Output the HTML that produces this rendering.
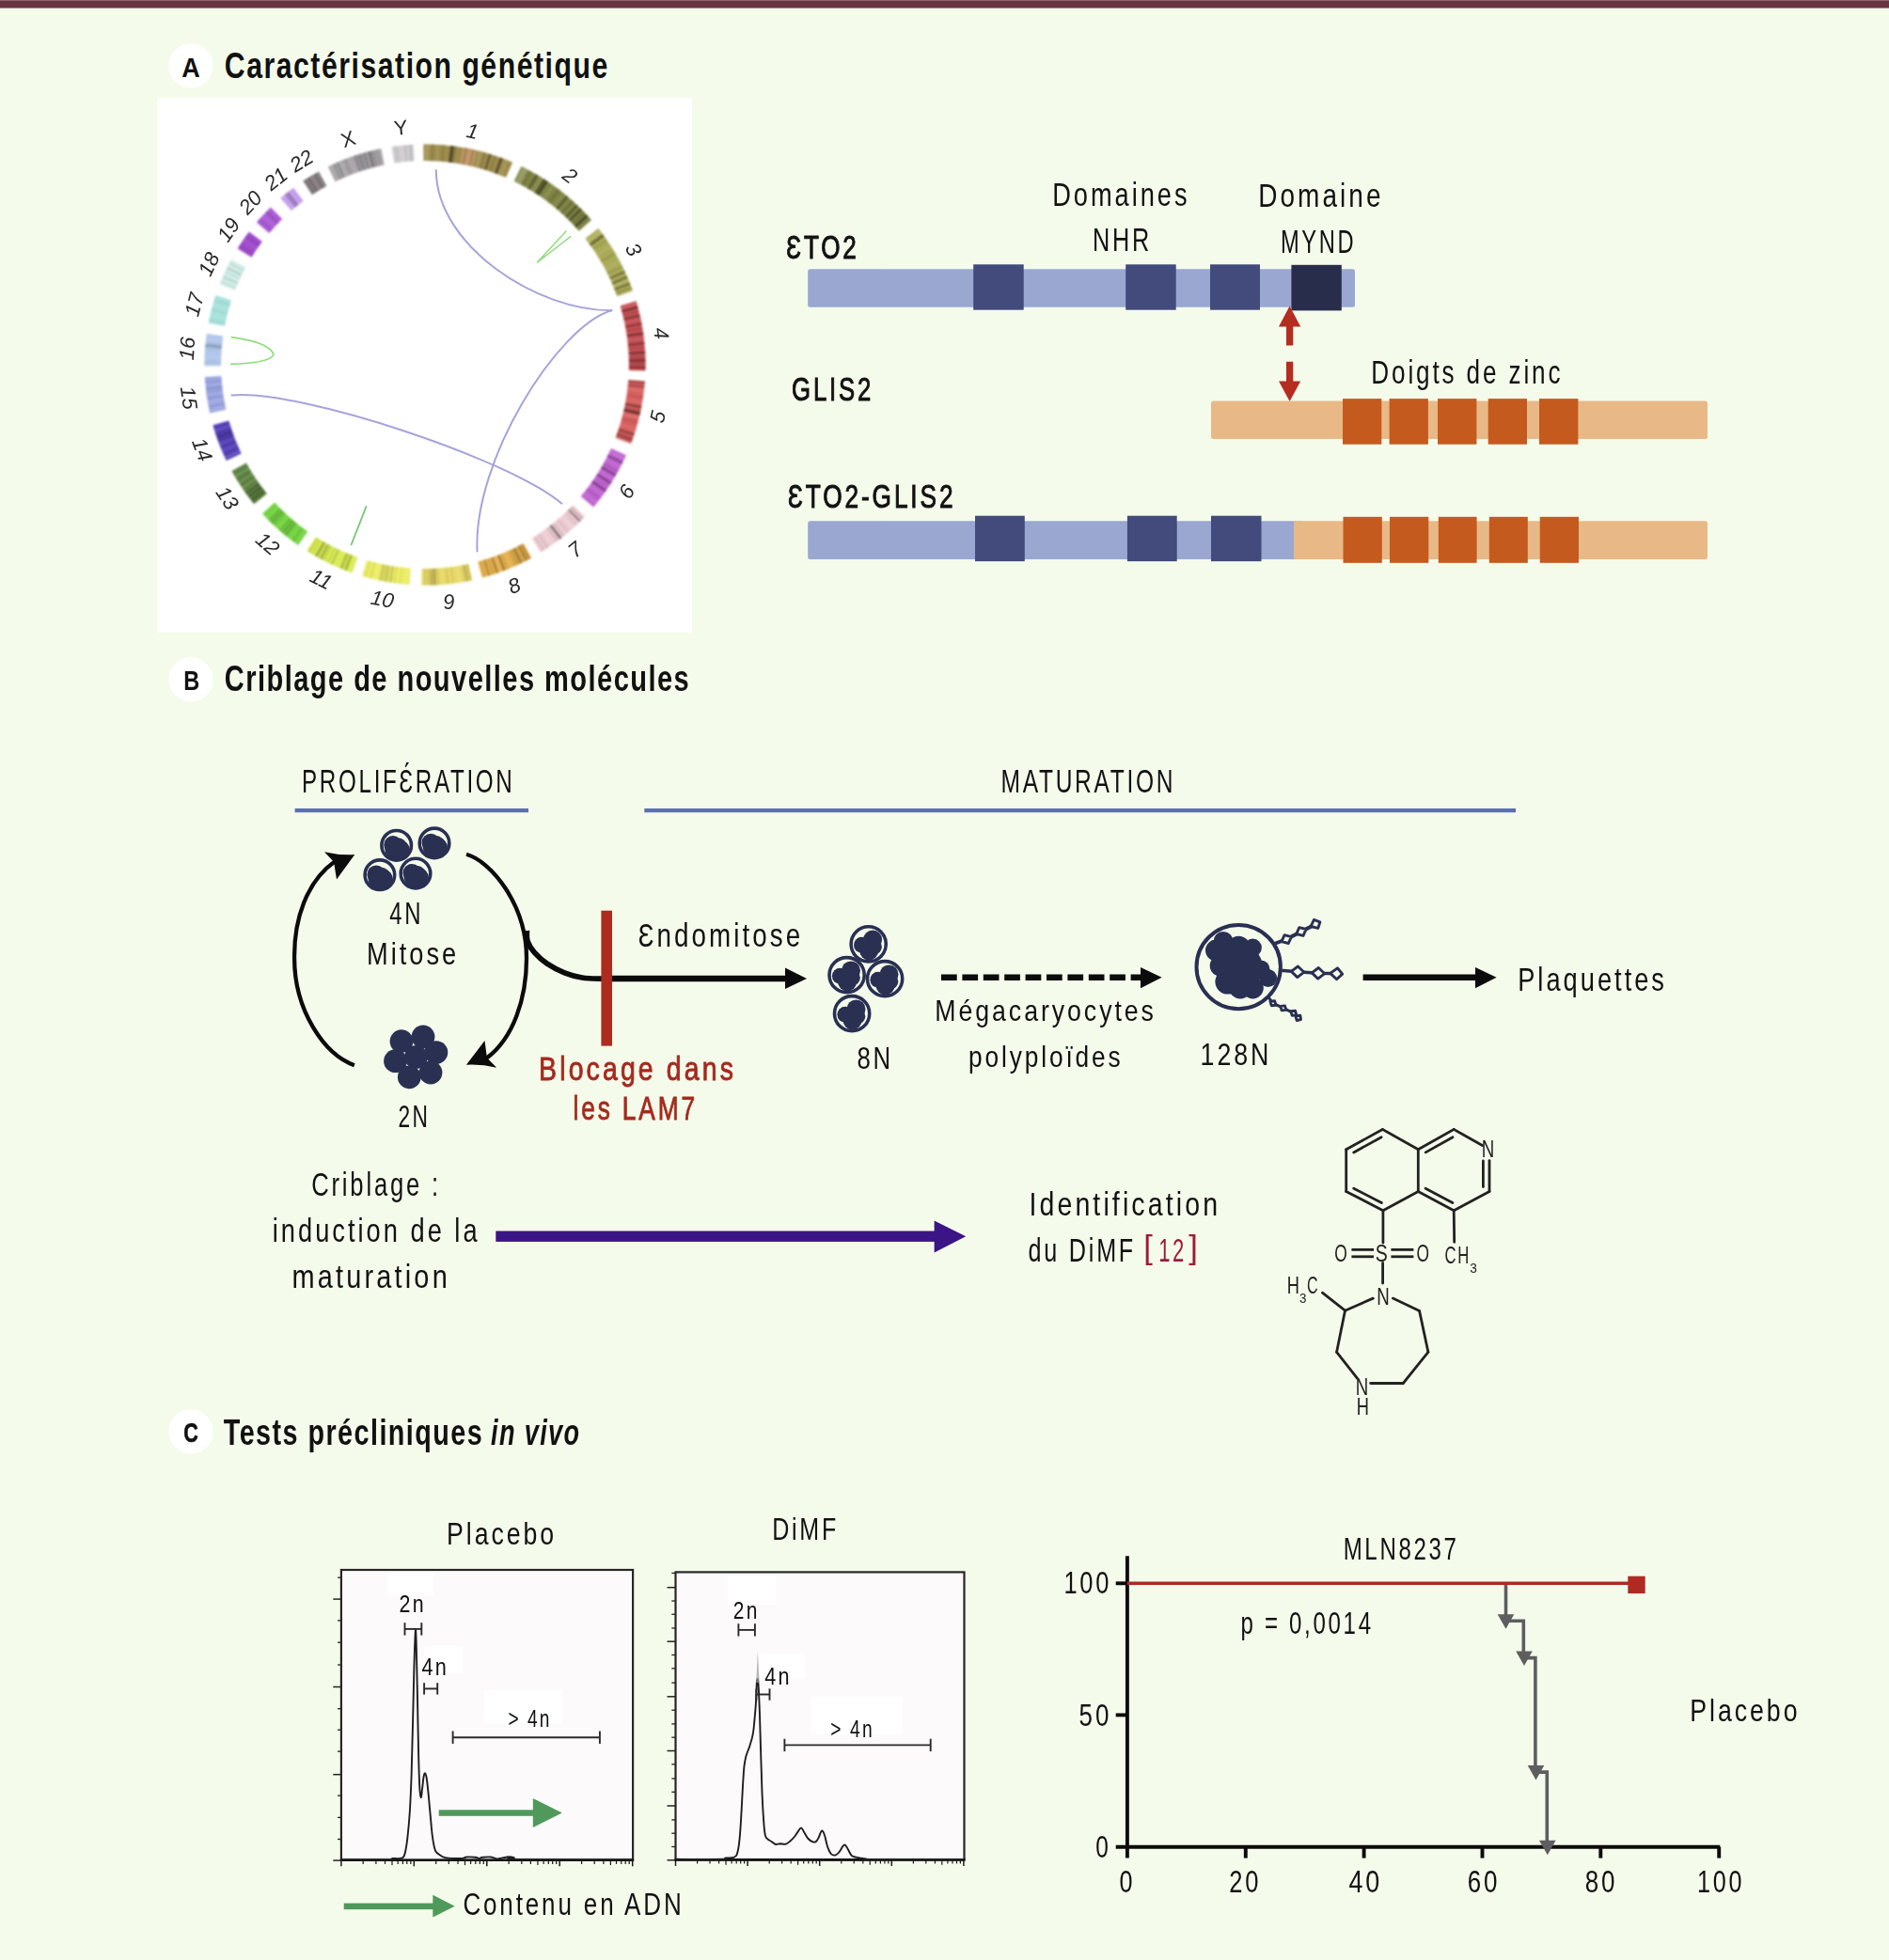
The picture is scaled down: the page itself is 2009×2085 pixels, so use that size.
<!DOCTYPE html>
<html><head><meta charset="utf-8"><title>Figure</title>
<style>html,body{margin:0;padding:0;background:#f5fbeb}svg{display:block}text{font-family:"Liberation Sans",sans-serif}</style></head>
<body>
<svg width="2009" height="2085" viewBox="0 0 2009 2085">
<rect width="2009" height="2085" fill="#f5fbeb"/>
<rect x="0.0" y="0.0" width="2009.0" height="8.6" fill="#6b3641" />
<rect x="0.0" y="0.0" width="2009.0" height="1.0" fill="#8d6670" />
<circle cx="203.0" cy="70.0" r="23.6" fill="#ffffff" />
<text x="203.0" y="82.0" font-size="30.0" textLength="19.5" lengthAdjust="spacingAndGlyphs" font-weight="bold" fill="#111" text-anchor="middle" >A</text>
<text x="238.8" y="83.2" font-size="38.0" textLength="408.9" lengthAdjust="spacingAndGlyphs" font-weight="bold" fill="#111" letter-spacing="1.90" >Caractérisation génétique</text>
<rect x="167.3" y="104.0" width="568.7" height="568.7" fill="#ffffff" />
<defs><filter id="bl" x="-5%" y="-5%" width="110%" height="110%"><feGaussianBlur stdDeviation="0.9"/></filter><filter id="bl2"><feGaussianBlur stdDeviation="0.6"/></filter></defs>
<g filter="url(#bl)">
<path d="M450.36,153.41 A234.60,234.60 0 0 1 545.17,172.69 L538.18,188.85 A217.00,217.00 0 0 0 450.49,171.01 Z" fill="#9e8c4e" />
<path d="M452.80,153.40 A234.60,234.60 0 0 1 455.72,153.43 L455.44,171.03 A217.00,217.00 0 0 0 452.74,171.00 Z" fill="#ad9d69" />
<path d="M459.13,153.51 A234.60,234.60 0 0 1 461.08,153.58 L460.40,171.16 A217.00,217.00 0 0 0 458.60,171.10 Z" fill="#8e7e46" />
<path d="M464.97,153.76 A234.60,234.60 0 0 1 466.92,153.87 L465.80,171.44 A217.00,217.00 0 0 0 464.00,171.33 Z" fill="#aa9a63" />
<path d="M470.81,154.16 A234.60,234.60 0 0 1 472.75,154.32 L471.19,171.85 A217.00,217.00 0 0 0 469.40,171.70 Z" fill="#8b7b45" />
<path d="M479.05,154.96 A234.60,234.60 0 0 1 482.92,155.45 L480.60,172.89 A217.00,217.00 0 0 0 477.02,172.45 Z" fill="#4f4627" />
<path d="M483.64,155.54 A234.60,234.60 0 0 1 485.09,155.75 L482.61,173.17 A217.00,217.00 0 0 0 481.27,172.98 Z" fill="#7e703e" />
<path d="M492.55,156.93 A234.60,234.60 0 0 1 506.86,159.90 L502.74,177.02 A217.00,217.00 0 0 0 489.51,174.27 Z" fill="#c4966c" />
<path d="M495.19,157.41 A234.60,234.60 0 0 1 496.62,157.68 L493.27,174.96 A217.00,217.00 0 0 0 491.95,174.71 Z" fill="#867742" />
<path d="M502.82,158.97 A234.60,234.60 0 0 1 504.25,159.29 L500.33,176.45 A217.00,217.00 0 0 0 499.01,176.15 Z" fill="#8b7b45" />
<path d="M509.70,160.61 A234.60,234.60 0 0 1 512.53,161.34 L507.98,178.35 A217.00,217.00 0 0 0 505.37,177.66 Z" fill="#aa9a63" />
<path d="M514.88,161.98 A234.60,234.60 0 0 1 516.75,162.51 L511.89,179.43 A217.00,217.00 0 0 0 510.16,178.94 Z" fill="#867742" />
<path d="M520.02,163.48 A234.60,234.60 0 0 1 522.81,164.34 L517.50,181.12 A217.00,217.00 0 0 0 514.92,180.32 Z" fill="#675b33" />
<path d="M526.29,165.47 A234.60,234.60 0 0 1 527.68,165.94 L522.00,182.60 A217.00,217.00 0 0 0 520.72,182.17 Z" fill="#7e703e" />
<path d="M532.04,167.48 A234.60,234.60 0 0 1 534.78,168.49 L528.57,184.96 A217.00,217.00 0 0 0 526.04,184.02 Z" fill="#4f4627" />
<path d="M537.51,169.54 A234.60,234.60 0 0 1 540.23,170.62 L533.61,186.93 A217.00,217.00 0 0 0 531.10,185.93 Z" fill="#a89860" />
<path d="M554.47,176.96 A234.60,234.60 0 0 1 629.05,234.09 L615.77,245.64 A217.00,217.00 0 0 0 546.79,192.80 Z" fill="#808444" />
<path d="M556.17,177.80 A234.60,234.60 0 0 1 561.23,180.38 L553.03,195.95 A217.00,217.00 0 0 0 548.36,193.57 Z" fill="#999d69" />
<path d="M563.73,181.71 A234.60,234.60 0 0 1 565.39,182.62 L556.88,198.03 A217.00,217.00 0 0 0 555.35,197.19 Z" fill="#6d703a" />
<path d="M569.91,185.19 A234.60,234.60 0 0 1 572.36,186.63 L563.33,201.73 A217.00,217.00 0 0 0 561.07,200.40 Z" fill="#5a5c30" />
<path d="M575.19,188.35 A234.60,234.60 0 0 1 576.79,189.35 L567.43,204.25 A217.00,217.00 0 0 0 565.95,203.32 Z" fill="#939660" />
<path d="M577.99,190.10 A234.60,234.60 0 0 1 581.96,192.68 L572.21,207.34 A217.00,217.00 0 0 0 568.54,204.95 Z" fill="#53562c" />
<path d="M581.76,192.55 A234.60,234.60 0 0 1 582.94,193.34 L573.12,207.94 A217.00,217.00 0 0 0 572.03,207.22 Z" fill="#33351b" />
<path d="M587.42,196.43 A234.60,234.60 0 0 1 589.72,198.08 L579.39,212.33 A217.00,217.00 0 0 0 577.26,210.80 Z" fill="#8f935a" />
<path d="M593.15,200.61 A234.60,234.60 0 0 1 596.15,202.91 L585.34,216.80 A217.00,217.00 0 0 0 582.56,214.67 Z" fill="#73773d" />
<path d="M599.12,205.26 A234.60,234.60 0 0 1 600.58,206.45 L589.44,220.07 A217.00,217.00 0 0 0 588.08,218.97 Z" fill="#8d9057" />
<path d="M602.77,208.26 A234.60,234.60 0 0 1 604.21,209.48 L592.79,222.88 A217.00,217.00 0 0 0 591.46,221.75 Z" fill="#464925" />
<path d="M608.13,212.90 A234.60,234.60 0 0 1 610.24,214.80 L598.37,227.80 A217.00,217.00 0 0 0 596.42,226.04 Z" fill="#6d703a" />
<path d="M613.01,217.38 A234.60,234.60 0 0 1 615.07,219.34 L602.83,231.99 A217.00,217.00 0 0 0 600.93,230.18 Z" fill="#53562c" />
<path d="M617.09,221.32 A234.60,234.60 0 0 1 619.10,223.33 L606.56,235.69 A217.00,217.00 0 0 0 604.71,233.83 Z" fill="#4d4f29" />
<path d="M620.75,225.02 A234.60,234.60 0 0 1 622.06,226.39 L609.30,238.51 A217.00,217.00 0 0 0 608.09,237.25 Z" fill="#666a36" />
<path d="M623.35,227.77 A234.60,234.60 0 0 1 625.92,230.55 L612.87,242.36 A217.00,217.00 0 0 0 610.50,239.79 Z" fill="#4d4f29" />
<path d="M636.36,242.92 A234.60,234.60 0 0 1 673.01,309.30 L656.43,315.21 A217.00,217.00 0 0 0 622.53,253.81 Z" fill="#aaaa58" />
<path d="M637.77,244.72 A234.60,234.60 0 0 1 639.61,247.15 L625.54,257.71 A217.00,217.00 0 0 0 623.83,255.47 Z" fill="#b7b771" />
<path d="M640.97,248.98 A234.60,234.60 0 0 1 642.76,251.45 L628.45,261.69 A217.00,217.00 0 0 0 626.80,259.41 Z" fill="#666635" />
<path d="M644.95,254.56 A234.60,234.60 0 0 1 645.82,255.82 L631.28,265.73 A217.00,217.00 0 0 0 630.48,264.57 Z" fill="#96964d" />
<path d="M648.98,260.57 A234.60,234.60 0 0 1 650.21,262.50 L635.34,271.91 A217.00,217.00 0 0 0 634.20,270.13 Z" fill="#b2b269" />
<path d="M653.79,268.34 A234.60,234.60 0 0 1 654.95,270.31 L639.72,279.14 A217.00,217.00 0 0 0 638.65,277.32 Z" fill="#99994f" />
<path d="M658.66,276.96 A234.60,234.60 0 0 1 659.73,278.98 L644.15,287.16 A217.00,217.00 0 0 0 643.16,285.29 Z" fill="#b4b46c" />
<path d="M661.64,282.71 A234.60,234.60 0 0 1 662.32,284.07 L646.54,291.87 A217.00,217.00 0 0 0 645.92,290.61 Z" fill="#90904b" />
<path d="M664.14,287.84 A234.60,234.60 0 0 1 665.11,289.91 L649.12,297.27 A217.00,217.00 0 0 0 648.23,295.36 Z" fill="#6e6e39" />
<path d="M666.67,293.38 A234.60,234.60 0 0 1 667.59,295.48 L651.41,302.42 A217.00,217.00 0 0 0 650.57,300.48 Z" fill="#666635" />
<path d="M668.33,297.23 A234.60,234.60 0 0 1 668.91,298.64 L652.64,305.34 A217.00,217.00 0 0 0 652.10,304.04 Z" fill="#b7b771" />
<path d="M669.63,300.40 A234.60,234.60 0 0 1 670.47,302.53 L654.08,308.94 A217.00,217.00 0 0 0 653.31,306.97 Z" fill="#666635" />
<path d="M671.43,305.01 A234.60,234.60 0 0 1 671.97,306.44 L655.46,312.56 A217.00,217.00 0 0 0 654.97,311.24 Z" fill="#888846" />
<path d="M676.59,320.19 A234.60,234.60 0 0 1 686.51,394.55 L668.92,394.06 A217.00,217.00 0 0 0 659.74,325.28 Z" fill="#c45054" />
<path d="M677.12,322.00 A234.60,234.60 0 0 1 677.75,324.17 L660.81,328.96 A217.00,217.00 0 0 0 660.24,326.95 Z" fill="#cb6569" />
<path d="M678.16,325.62 A234.60,234.60 0 0 1 678.75,327.80 L661.73,332.32 A217.00,217.00 0 0 0 661.19,330.30 Z" fill="#6c2c2e" />
<path d="M679.41,330.36 A234.60,234.60 0 0 1 679.77,331.82 L662.69,336.03 A217.00,217.00 0 0 0 662.35,334.68 Z" fill="#a74447" />
<path d="M680.39,334.38 A234.60,234.60 0 0 1 680.90,336.58 L663.72,340.44 A217.00,217.00 0 0 0 663.26,338.40 Z" fill="#763032" />
<path d="M681.46,339.16 A234.60,234.60 0 0 1 681.77,340.63 L664.53,344.19 A217.00,217.00 0 0 0 664.25,342.82 Z" fill="#ca6265" />
<path d="M682.29,343.22 A234.60,234.60 0 0 1 682.71,345.44 L665.40,348.63 A217.00,217.00 0 0 0 665.01,346.58 Z" fill="#89383b" />
<path d="M683.30,348.78 A234.60,234.60 0 0 1 683.55,350.27 L666.17,353.10 A217.00,217.00 0 0 0 665.95,351.72 Z" fill="#a74447" />
<path d="M684.07,353.62 A234.60,234.60 0 0 1 684.39,355.85 L666.95,358.26 A217.00,217.00 0 0 0 666.66,356.20 Z" fill="#6c2c2e" />
<path d="M684.83,359.21 A234.60,234.60 0 0 1 685.01,360.71 L667.53,362.76 A217.00,217.00 0 0 0 667.36,361.37 Z" fill="#cb6569" />
<path d="M685.38,364.08 A234.60,234.60 0 0 1 685.60,366.33 L668.07,367.96 A217.00,217.00 0 0 0 667.87,365.87 Z" fill="#7f3437" />
<path d="M685.83,368.96 A234.60,234.60 0 0 1 685.94,370.46 L668.39,371.77 A217.00,217.00 0 0 0 668.28,370.39 Z" fill="#a74447" />
<path d="M686.17,373.84 A234.60,234.60 0 0 1 686.30,376.10 L668.72,376.99 A217.00,217.00 0 0 0 668.60,374.90 Z" fill="#6c2c2e" />
<path d="M686.42,378.73 A234.60,234.60 0 0 1 686.47,380.24 L668.88,380.82 A217.00,217.00 0 0 0 668.83,379.43 Z" fill="#9d4043" />
<path d="M686.53,382.12 A234.60,234.60 0 0 1 686.57,384.38 L668.97,384.65 A217.00,217.00 0 0 0 668.93,382.56 Z" fill="#6c2c2e" />
<path d="M686.59,386.26 A234.60,234.60 0 0 1 686.60,387.77 L669.00,387.79 A217.00,217.00 0 0 0 668.99,386.39 Z" fill="#933c3f" />
<path d="M686.59,389.65 A234.60,234.60 0 0 1 686.57,391.91 L668.97,391.62 A217.00,217.00 0 0 0 668.99,389.53 Z" fill="#763032" />
<path d="M685.97,405.18 A234.60,234.60 0 0 1 671.02,472.07 L654.59,465.77 A217.00,217.00 0 0 0 668.42,403.89 Z" fill="#d6605e" />
<path d="M685.89,406.21 A234.60,234.60 0 0 1 685.72,408.27 L668.19,406.75 A217.00,217.00 0 0 0 668.35,404.84 Z" fill="#964342" />
<path d="M685.50,410.66 A234.60,234.60 0 0 1 685.37,412.03 L667.86,410.23 A217.00,217.00 0 0 0 667.98,408.96 Z" fill="#803a38" />
<path d="M685.03,415.11 A234.60,234.60 0 0 1 684.78,417.16 L667.32,414.97 A217.00,217.00 0 0 0 667.55,413.08 Z" fill="#db7371" />
<path d="M684.13,421.93 A234.60,234.60 0 0 1 683.83,423.97 L666.43,421.27 A217.00,217.00 0 0 0 666.72,419.39 Z" fill="#c15655" />
<path d="M683.22,427.71 A234.60,234.60 0 0 1 682.98,429.06 L665.65,425.98 A217.00,217.00 0 0 0 665.87,424.73 Z" fill="#da706e" />
<path d="M682.42,432.10 A234.60,234.60 0 0 1 682.02,434.13 L664.76,430.67 A217.00,217.00 0 0 0 665.13,428.80 Z" fill="#763534" />
<path d="M681.68,435.81 A234.60,234.60 0 0 1 681.39,437.16 L664.18,433.47 A217.00,217.00 0 0 0 664.45,432.23 Z" fill="#ab4d4b" />
<path d="M681.17,438.17 A234.60,234.60 0 0 1 680.41,441.52 L663.28,437.51 A217.00,217.00 0 0 0 663.98,434.41 Z" fill="#6b302f" />
<path d="M679.85,443.86 A234.60,234.60 0 0 1 679.52,445.20 L662.45,440.91 A217.00,217.00 0 0 0 662.76,439.67 Z" fill="#de807e" />
<path d="M678.57,448.86 A234.60,234.60 0 0 1 678.02,450.85 L661.07,446.14 A217.00,217.00 0 0 0 661.57,444.30 Z" fill="#bc5453" />
<path d="M676.69,455.48 A234.60,234.60 0 0 1 676.08,457.45 L659.27,452.24 A217.00,217.00 0 0 0 659.83,450.42 Z" fill="#da706e" />
<path d="M674.83,461.38 A234.60,234.60 0 0 1 674.17,463.34 L657.51,457.69 A217.00,217.00 0 0 0 658.11,455.88 Z" fill="#763534" />
<path d="M673.62,464.97 A234.60,234.60 0 0 1 673.16,466.26 L656.57,460.39 A217.00,217.00 0 0 0 656.99,459.19 Z" fill="#ab4d4b" />
<path d="M672.81,467.24 A234.60,234.60 0 0 1 672.11,469.18 L655.60,463.09 A217.00,217.00 0 0 0 656.25,461.29 Z" fill="#803a38" />
<path d="M665.98,484.17 A234.60,234.60 0 0 1 631.19,539.42 L617.74,528.06 A217.00,217.00 0 0 0 649.93,476.95 Z" fill="#c064d0" />
<path d="M664.76,486.85 A234.60,234.60 0 0 1 663.92,488.63 L648.02,481.08 A217.00,217.00 0 0 0 648.80,479.43 Z" fill="#c97bd7" />
<path d="M662.64,491.28 A234.60,234.60 0 0 1 661.47,493.63 L645.76,485.71 A217.00,217.00 0 0 0 646.84,483.53 Z" fill="#864692" />
<path d="M659.98,496.54 A234.60,234.60 0 0 1 659.37,497.70 L643.81,489.47 A217.00,217.00 0 0 0 644.38,488.40 Z" fill="#c877d6" />
<path d="M657.66,500.88 A234.60,234.60 0 0 1 656.71,502.59 L641.35,494.00 A217.00,217.00 0 0 0 642.23,492.41 Z" fill="#a355b1" />
<path d="M655.58,504.59 A234.60,234.60 0 0 1 654.26,506.86 L639.09,497.94 A217.00,217.00 0 0 0 640.31,495.84 Z" fill="#7d4187" />
<path d="M652.58,509.67 A234.60,234.60 0 0 1 651.90,510.79 L636.90,501.58 A217.00,217.00 0 0 0 637.54,500.54 Z" fill="#c674d5" />
<path d="M650.52,513.01 A234.60,234.60 0 0 1 649.11,515.22 L634.32,505.68 A217.00,217.00 0 0 0 635.62,503.63 Z" fill="#7d4187" />
<path d="M647.31,517.96 A234.60,234.60 0 0 1 646.58,519.05 L631.99,509.22 A217.00,217.00 0 0 0 632.66,508.21 Z" fill="#ad5abb" />
<path d="M645.11,521.22 A234.60,234.60 0 0 1 643.61,523.36 L629.23,513.21 A217.00,217.00 0 0 0 630.62,511.22 Z" fill="#733c7d" />
<path d="M641.70,526.03 A234.60,234.60 0 0 1 640.93,527.08 L626.75,516.65 A217.00,217.00 0 0 0 627.47,515.67 Z" fill="#c674d5" />
<path d="M638.77,529.97 A234.60,234.60 0 0 1 637.57,531.53 L623.65,520.76 A217.00,217.00 0 0 0 624.76,519.32 Z" fill="#a958b7" />
<path d="M635.34,534.36 A234.60,234.60 0 0 1 633.70,536.40 L620.07,525.27 A217.00,217.00 0 0 0 621.59,523.38 Z" fill="#c570d4" />
<path d="M622.17,549.49 A234.60,234.60 0 0 1 574.93,587.82 L565.70,572.82 A217.00,217.00 0 0 0 609.41,537.37 Z" fill="#ecccd2" />
<path d="M620.06,551.69 A234.60,234.60 0 0 1 619.21,552.56 L606.66,540.21 A217.00,217.00 0 0 0 607.45,539.41 Z" fill="#b1999e" />
<path d="M617.92,553.86 A234.60,234.60 0 0 1 616.18,555.58 L603.86,543.00 A217.00,217.00 0 0 0 605.47,541.42 Z" fill="#8e7a7e" />
<path d="M613.99,557.70 A234.60,234.60 0 0 1 613.10,558.54 L601.02,545.74 A217.00,217.00 0 0 0 601.84,544.96 Z" fill="#d0b4b9" />
<path d="M609.75,561.65 A234.60,234.60 0 0 1 608.39,562.87 L596.66,549.75 A217.00,217.00 0 0 0 597.91,548.62 Z" fill="#f0d6db" />
<path d="M605.18,565.69 A234.60,234.60 0 0 1 603.79,566.88 L592.40,553.46 A217.00,217.00 0 0 0 593.69,552.36 Z" fill="#d9bcc1" />
<path d="M600.27,569.80 A234.60,234.60 0 0 1 599.32,570.57 L588.27,556.88 A217.00,217.00 0 0 0 589.15,556.17 Z" fill="#c9adb2" />
<path d="M597.66,571.91 A234.60,234.60 0 0 1 595.25,573.78 L584.51,559.85 A217.00,217.00 0 0 0 586.73,558.11 Z" fill="#827074" />
<path d="M593.56,575.08 A234.60,234.60 0 0 1 592.58,575.81 L582.03,561.72 A217.00,217.00 0 0 0 582.94,561.05 Z" fill="#bda3a8" />
<path d="M588.39,578.88 A234.60,234.60 0 0 1 586.90,579.93 L576.78,565.54 A217.00,217.00 0 0 0 578.16,564.56 Z" fill="#efd4d9" />
<path d="M583.39,582.36 A234.60,234.60 0 0 1 581.86,583.38 L572.12,568.72 A217.00,217.00 0 0 0 573.53,567.78 Z" fill="#d4b8bd" />
<path d="M579.06,585.21 A234.60,234.60 0 0 1 578.03,585.87 L568.57,571.03 A217.00,217.00 0 0 0 569.53,570.42 Z" fill="#c9adb2" />
<path d="M565.38,593.38 A234.60,234.60 0 0 1 512.72,614.61 L508.16,597.61 A217.00,217.00 0 0 0 556.87,577.98 Z" fill="#e4b04e" />
<path d="M563.63,594.34 A234.60,234.60 0 0 1 562.13,595.15 L553.86,579.61 A217.00,217.00 0 0 0 555.26,578.86 Z" fill="#a07b37" />
<path d="M560.61,595.94 A234.60,234.60 0 0 1 559.10,596.73 L551.06,581.07 A217.00,217.00 0 0 0 552.47,580.34 Z" fill="#7d612b" />
<path d="M557.32,597.63 A234.60,234.60 0 0 1 556.30,598.14 L548.48,582.37 A217.00,217.00 0 0 0 549.42,581.90 Z" fill="#b68d3e" />
<path d="M555.03,598.77 A234.60,234.60 0 0 1 553.49,599.51 L545.88,583.64 A217.00,217.00 0 0 0 547.30,582.95 Z" fill="#725827" />
<path d="M551.69,600.36 A234.60,234.60 0 0 1 550.66,600.85 L543.26,584.88 A217.00,217.00 0 0 0 544.21,584.43 Z" fill="#a07b37" />
<path d="M549.11,601.56 A234.60,234.60 0 0 1 548.07,602.03 L540.86,585.97 A217.00,217.00 0 0 0 541.82,585.54 Z" fill="#c29642" />
<path d="M544.68,603.52 A234.60,234.60 0 0 1 543.11,604.18 L536.28,587.97 A217.00,217.00 0 0 0 537.73,587.35 Z" fill="#e7b963" />
<path d="M540.22,605.38 A234.60,234.60 0 0 1 539.16,605.81 L532.63,589.47 A217.00,217.00 0 0 0 533.60,589.07 Z" fill="#c29642" />
<path d="M537.31,606.54 A234.60,234.60 0 0 1 535.72,607.15 L529.44,590.71 A217.00,217.00 0 0 0 530.91,590.14 Z" fill="#7d612b" />
<path d="M533.32,608.05 A234.60,234.60 0 0 1 532.25,608.45 L526.23,591.91 A217.00,217.00 0 0 0 527.22,591.55 Z" fill="#e7b860" />
<path d="M529.84,609.31 A234.60,234.60 0 0 1 528.23,609.87 L522.51,593.22 A217.00,217.00 0 0 0 524.00,592.71 Z" fill="#896a2f" />
<path d="M525.26,610.87 A234.60,234.60 0 0 1 524.18,611.22 L518.76,594.47 A217.00,217.00 0 0 0 519.77,594.15 Z" fill="#b68d3e" />
<path d="M521.20,612.16 A234.60,234.60 0 0 1 519.56,612.66 L514.49,595.81 A217.00,217.00 0 0 0 516.00,595.35 Z" fill="#a07b37" />
<path d="M516.56,613.54 A234.60,234.60 0 0 1 515.46,613.85 L510.70,596.91 A217.00,217.00 0 0 0 511.72,596.62 Z" fill="#c99b45" />
<path d="M502.38,617.13 A234.60,234.60 0 0 1 448.32,622.57 L448.59,604.97 A217.00,217.00 0 0 0 498.60,599.94 Z" fill="#e8d868" />
<path d="M500.78,617.47 A234.60,234.60 0 0 1 499.71,617.70 L496.13,600.46 A217.00,217.00 0 0 0 497.12,600.26 Z" fill="#a29749" />
<path d="M497.58,618.13 A234.60,234.60 0 0 1 496.51,618.34 L493.17,601.06 A217.00,217.00 0 0 0 494.16,600.87 Z" fill="#807739" />
<path d="M494.77,618.67 A234.60,234.60 0 0 1 493.97,618.82 L490.82,601.50 A217.00,217.00 0 0 0 491.56,601.36 Z" fill="#baad53" />
<path d="M490.08,619.49 A234.60,234.60 0 0 1 487.93,619.83 L485.23,602.44 A217.00,217.00 0 0 0 487.22,602.12 Z" fill="#ebde7f" />
<path d="M482.81,620.57 A234.60,234.60 0 0 1 481.19,620.78 L479.00,603.31 A217.00,217.00 0 0 0 480.50,603.12 Z" fill="#d5c760" />
<path d="M477.13,621.25 A234.60,234.60 0 0 1 476.05,621.36 L474.24,603.86 A217.00,217.00 0 0 0 475.24,603.75 Z" fill="#c5b858" />
<path d="M471.98,621.75 A234.60,234.60 0 0 1 470.35,621.88 L468.97,604.34 A217.00,217.00 0 0 0 470.48,604.21 Z" fill="#ebdd7a" />
<path d="M466.28,622.17 A234.60,234.60 0 0 1 465.19,622.23 L464.20,604.66 A217.00,217.00 0 0 0 465.21,604.60 Z" fill="#baad53" />
<path d="M463.29,622.33 A234.60,234.60 0 0 1 461.65,622.40 L460.93,604.82 A217.00,217.00 0 0 0 462.44,604.75 Z" fill="#807739" />
<path d="M459.75,622.47 A234.60,234.60 0 0 1 458.66,622.51 L458.16,604.91 A217.00,217.00 0 0 0 459.17,604.88 Z" fill="#746c34" />
<path d="M456.48,622.56 A234.60,234.60 0 0 1 455.39,622.58 L455.14,604.98 A217.00,217.00 0 0 0 456.15,604.96 Z" fill="#aea24e" />
<path d="M452.94,622.60 A234.60,234.60 0 0 1 451.31,622.60 L451.36,605.00 A217.00,217.00 0 0 0 452.87,605.00 Z" fill="#ccbe5c" />
<path d="M435.64,622.03 A234.60,234.60 0 0 1 384.98,612.82 L390.01,595.96 A217.00,217.00 0 0 0 436.86,604.47 Z" fill="#ecec68" />
<path d="M432.29,621.77 A234.60,234.60 0 0 1 430.75,621.64 L432.34,604.11 A217.00,217.00 0 0 0 433.77,604.23 Z" fill="#eeee7a" />
<path d="M426.13,621.17 A234.60,234.60 0 0 1 424.59,620.99 L426.65,603.51 A217.00,217.00 0 0 0 428.07,603.68 Z" fill="#dede62" />
<path d="M419.73,620.37 A234.60,234.60 0 0 1 418.71,620.23 L421.21,602.80 A217.00,217.00 0 0 0 422.15,602.94 Z" fill="#c9c958" />
<path d="M415.65,619.77 A234.60,234.60 0 0 1 414.63,619.60 L417.43,602.23 A217.00,217.00 0 0 0 418.38,602.38 Z" fill="#8e8e3e" />
<path d="M412.59,619.27 A234.60,234.60 0 0 1 411.58,619.09 L414.61,601.75 A217.00,217.00 0 0 0 415.55,601.92 Z" fill="#bdbd53" />
<path d="M410.05,618.82 A234.60,234.60 0 0 1 409.04,618.63 L412.26,601.33 A217.00,217.00 0 0 0 413.20,601.50 Z" fill="#828239" />
<path d="M407.01,618.25 A234.60,234.60 0 0 1 406.00,618.05 L409.45,600.79 A217.00,217.00 0 0 0 410.39,600.97 Z" fill="#a5a549" />
<path d="M404.36,617.71 A234.60,234.60 0 0 1 403.60,617.55 L407.23,600.33 A217.00,217.00 0 0 0 407.93,600.48 Z" fill="#828239" />
<path d="M399.69,616.69 A234.60,234.60 0 0 1 398.19,616.34 L402.22,599.21 A217.00,217.00 0 0 0 403.62,599.54 Z" fill="#eeee77" />
<path d="M394.43,615.43 A234.60,234.60 0 0 1 393.43,615.17 L397.82,598.13 A217.00,217.00 0 0 0 398.75,598.36 Z" fill="#c9c958" />
<path d="M389.69,614.17 A234.60,234.60 0 0 1 388.20,613.76 L392.98,596.82 A217.00,217.00 0 0 0 394.36,597.21 Z" fill="#d9d960" />
<path d="M374.46,609.42 A234.60,234.60 0 0 1 326.30,586.08 L335.73,571.22 A217.00,217.00 0 0 0 380.28,592.80 Z" fill="#d8ea54" />
<path d="M372.19,608.61 A234.60,234.60 0 0 1 370.68,608.05 L376.78,591.54 A217.00,217.00 0 0 0 378.18,592.06 Z" fill="#dded69" />
<path d="M368.17,607.11 A234.60,234.60 0 0 1 366.66,606.53 L373.07,590.14 A217.00,217.00 0 0 0 374.46,590.67 Z" fill="#828c32" />
<path d="M364.92,605.84 A234.60,234.60 0 0 1 363.92,605.44 L370.53,589.13 A217.00,217.00 0 0 0 371.45,589.50 Z" fill="#adbb43" />
<path d="M362.93,605.03 A234.60,234.60 0 0 1 361.94,604.62 L368.70,588.37 A217.00,217.00 0 0 0 369.61,588.75 Z" fill="#828c32" />
<path d="M358.24,603.05 A234.60,234.60 0 0 1 356.76,602.40 L363.91,586.32 A217.00,217.00 0 0 0 365.27,586.92 Z" fill="#dcec65" />
<path d="M353.10,600.74 A234.60,234.60 0 0 1 352.13,600.28 L359.62,584.36 A217.00,217.00 0 0 0 360.52,584.78 Z" fill="#97a43b" />
<path d="M349.47,599.01 A234.60,234.60 0 0 1 348.02,598.30 L355.82,582.52 A217.00,217.00 0 0 0 357.16,583.18 Z" fill="#c2d34c" />
<path d="M344.43,596.49 A234.60,234.60 0 0 1 343.48,595.99 L351.62,580.39 A217.00,217.00 0 0 0 352.50,580.85 Z" fill="#adbb43" />
<path d="M341.82,595.12 A234.60,234.60 0 0 1 340.40,594.36 L348.77,578.88 A217.00,217.00 0 0 0 350.09,579.58 Z" fill="#828c32" />
<path d="M338.75,593.46 A234.60,234.60 0 0 1 337.82,592.94 L346.38,577.56 A217.00,217.00 0 0 0 347.25,578.04 Z" fill="#a2b03f" />
<path d="M336.65,592.28 A234.60,234.60 0 0 1 335.25,591.49 L344.01,576.22 A217.00,217.00 0 0 0 345.30,576.96 Z" fill="#77812e" />
<path d="M332.47,589.86 A234.60,234.60 0 0 1 331.09,589.04 L340.16,573.96 A217.00,217.00 0 0 0 341.44,574.72 Z" fill="#c2d34c" />
<path d="M329.02,587.79 A234.60,234.60 0 0 1 328.11,587.22 L337.41,572.27 A217.00,217.00 0 0 0 338.25,572.80 Z" fill="#adbb43" />
<path d="M317.10,579.94 A234.60,234.60 0 0 1 279.03,546.49 L292.01,534.60 A217.00,217.00 0 0 0 327.22,565.54 Z" fill="#74d242" />
<path d="M315.24,578.62 A234.60,234.60 0 0 1 314.01,577.72 L324.36,563.49 A217.00,217.00 0 0 0 325.50,564.31 Z" fill="#89d95e" />
<path d="M311.96,576.22 A234.60,234.60 0 0 1 310.74,575.31 L321.34,561.25 A217.00,217.00 0 0 0 322.47,562.10 Z" fill="#68bd3b" />
<path d="M307.92,573.14 A234.60,234.60 0 0 1 306.72,572.20 L317.62,558.39 A217.00,217.00 0 0 0 318.73,559.25 Z" fill="#82d655" />
<path d="M304.15,570.14 A234.60,234.60 0 0 1 302.57,568.86 L313.78,555.29 A217.00,217.00 0 0 0 315.24,556.48 Z" fill="#5da835" />
<path d="M301.21,567.72 A234.60,234.60 0 0 1 300.04,566.74 L311.44,553.33 A217.00,217.00 0 0 0 312.52,554.24 Z" fill="#51932e" />
<path d="M298.50,565.41 A234.60,234.60 0 0 1 297.35,564.41 L308.96,551.18 A217.00,217.00 0 0 0 310.02,552.10 Z" fill="#5da835" />
<path d="M294.70,562.05 A234.60,234.60 0 0 1 293.57,561.03 L305.46,548.05 A217.00,217.00 0 0 0 306.50,548.99 Z" fill="#85d759" />
<path d="M290.97,558.61 A234.60,234.60 0 0 1 289.87,557.56 L302.03,544.84 A217.00,217.00 0 0 0 303.05,545.81 Z" fill="#63b238" />
<path d="M288.77,556.50 A234.60,234.60 0 0 1 287.68,555.44 L300.01,542.88 A217.00,217.00 0 0 0 301.01,543.86 Z" fill="#51932e" />
<path d="M286.59,554.37 A234.60,234.60 0 0 1 285.52,553.29 L298.01,540.89 A217.00,217.00 0 0 0 299.00,541.89 Z" fill="#5da835" />
<path d="M283.74,551.48 A234.60,234.60 0 0 1 282.68,550.38 L295.38,538.20 A217.00,217.00 0 0 0 296.36,539.21 Z" fill="#82d655" />
<path d="M270.20,536.27 A234.60,234.60 0 0 1 246.42,501.02 L261.84,492.54 A217.00,217.00 0 0 0 283.84,525.15 Z" fill="#628644" />
<path d="M268.99,534.78 A234.60,234.60 0 0 1 268.20,533.79 L281.99,522.85 A217.00,217.00 0 0 0 282.72,523.77 Z" fill="#455e30" />
<path d="M267.41,532.78 A234.60,234.60 0 0 1 266.62,531.78 L280.53,520.99 A217.00,217.00 0 0 0 281.25,521.92 Z" fill="#314322" />
<path d="M265.71,530.59 A234.60,234.60 0 0 1 265.19,529.92 L279.21,519.27 A217.00,217.00 0 0 0 279.69,519.90 Z" fill="#455e30" />
<path d="M264.55,529.07 A234.60,234.60 0 0 1 263.79,528.05 L277.91,517.54 A217.00,217.00 0 0 0 278.61,518.48 Z" fill="#2c3c1f" />
<path d="M262.90,526.85 A234.60,234.60 0 0 1 262.40,526.16 L276.62,515.79 A217.00,217.00 0 0 0 277.09,516.43 Z" fill="#455e30" />
<path d="M261.77,525.30 A234.60,234.60 0 0 1 261.03,524.26 L275.35,514.04 A217.00,217.00 0 0 0 276.04,515.00 Z" fill="#364a25" />
<path d="M259.68,522.35 A234.60,234.60 0 0 1 259.19,521.65 L273.66,511.62 A217.00,217.00 0 0 0 274.11,512.27 Z" fill="#53723a" />
<path d="M257.87,519.72 A234.60,234.60 0 0 1 257.15,518.66 L271.77,508.85 A217.00,217.00 0 0 0 272.43,509.83 Z" fill="#7a9860" />
<path d="M255.86,516.70 A234.60,234.60 0 0 1 255.39,515.99 L270.14,506.39 A217.00,217.00 0 0 0 270.57,507.05 Z" fill="#4e6b36" />
<path d="M254.12,514.02 A234.60,234.60 0 0 1 253.44,512.94 L268.34,503.57 A217.00,217.00 0 0 0 268.97,504.57 Z" fill="#7a9860" />
<path d="M252.31,511.14 A234.60,234.60 0 0 1 251.65,510.05 L266.68,500.89 A217.00,217.00 0 0 0 267.29,501.90 Z" fill="#53723a" />
<path d="M250.11,507.49 A234.60,234.60 0 0 1 249.46,506.39 L264.66,497.51 A217.00,217.00 0 0 0 265.26,498.53 Z" fill="#819e69" />
<path d="M248.40,504.55 A234.60,234.60 0 0 1 247.77,503.44 L263.09,494.78 A217.00,217.00 0 0 0 263.67,495.80 Z" fill="#58793d" />
<path d="M240.79,490.11 A234.60,234.60 0 0 1 226.38,452.27 L243.30,447.45 A217.00,217.00 0 0 0 256.63,482.45 Z" fill="#5842ba" />
<path d="M239.65,487.73 A234.60,234.60 0 0 1 239.14,486.62 L255.11,479.23 A217.00,217.00 0 0 0 255.58,480.25 Z" fill="#7968c8" />
<path d="M237.96,484.04 A234.60,234.60 0 0 1 237.47,482.93 L253.56,475.81 A217.00,217.00 0 0 0 254.02,476.84 Z" fill="#4b389e" />
<path d="M236.25,480.14 A234.60,234.60 0 0 1 235.94,479.40 L252.15,472.54 A217.00,217.00 0 0 0 252.44,473.23 Z" fill="#715ec4" />
<path d="M234.77,476.59 A234.60,234.60 0 0 1 234.31,475.46 L250.64,468.90 A217.00,217.00 0 0 0 251.07,469.94 Z" fill="#463595" />
<path d="M233.20,472.63 A234.60,234.60 0 0 1 232.91,471.88 L249.34,465.59 A217.00,217.00 0 0 0 249.61,466.29 Z" fill="#6c59c2" />
<path d="M232.12,469.79 A234.60,234.60 0 0 1 231.70,468.65 L248.23,462.60 A217.00,217.00 0 0 0 248.62,463.66 Z" fill="#42328c" />
<path d="M231.15,467.13 A234.60,234.60 0 0 1 230.74,465.98 L247.34,460.13 A217.00,217.00 0 0 0 247.72,461.19 Z" fill="#352870" />
<path d="M230.34,464.83 A234.60,234.60 0 0 1 229.94,463.68 L246.60,458.01 A217.00,217.00 0 0 0 246.97,459.07 Z" fill="#302466" />
<path d="M229.36,461.95 A234.60,234.60 0 0 1 229.11,461.18 L245.83,455.69 A217.00,217.00 0 0 0 246.06,456.41 Z" fill="#42328c" />
<path d="M228.30,458.68 A234.60,234.60 0 0 1 227.94,457.52 L244.75,452.30 A217.00,217.00 0 0 0 245.08,453.37 Z" fill="#715ec4" />
<path d="M227.34,455.58 A234.60,234.60 0 0 1 227.00,454.41 L243.88,449.43 A217.00,217.00 0 0 0 244.20,450.51 Z" fill="#4f3ba7" />
<path d="M223.14,439.58 A234.60,234.60 0 0 1 217.77,401.10 L235.34,400.11 A217.00,217.00 0 0 0 240.31,435.71 Z" fill="#9ca6e2" />
<path d="M222.60,437.11 A234.60,234.60 0 0 1 222.36,435.96 L239.58,432.37 A217.00,217.00 0 0 0 239.81,433.42 Z" fill="#b0b8e8" />
<path d="M221.81,433.30 A234.60,234.60 0 0 1 221.59,432.15 L238.88,428.84 A217.00,217.00 0 0 0 239.08,429.90 Z" fill="#8992c7" />
<path d="M220.96,428.71 A234.60,234.60 0 0 1 220.76,427.56 L238.11,424.59 A217.00,217.00 0 0 0 238.29,425.65 Z" fill="#abb3e6" />
<path d="M220.16,423.91 A234.60,234.60 0 0 1 220.05,423.14 L237.45,420.51 A217.00,217.00 0 0 0 237.56,421.22 Z" fill="#7d85b5" />
<path d="M219.74,421.03 A234.60,234.60 0 0 1 219.57,419.87 L237.01,417.48 A217.00,217.00 0 0 0 237.16,418.55 Z" fill="#a8b1e5" />
<path d="M219.20,416.98 A234.60,234.60 0 0 1 219.10,416.20 L236.57,414.09 A217.00,217.00 0 0 0 236.66,414.80 Z" fill="#858dc0" />
<path d="M218.85,414.08 A234.60,234.60 0 0 1 218.73,412.92 L236.23,411.05 A217.00,217.00 0 0 0 236.34,412.12 Z" fill="#757caa" />
<path d="M218.51,410.79 A234.60,234.60 0 0 1 218.44,410.02 L235.96,408.36 A217.00,217.00 0 0 0 236.03,409.08 Z" fill="#abb3e6" />
<path d="M218.18,407.11 A234.60,234.60 0 0 1 218.09,405.95 L235.64,404.60 A217.00,217.00 0 0 0 235.72,405.68 Z" fill="#8992c7" />
<path d="M217.40,389.23 A234.60,234.60 0 0 1 219.74,354.94 L237.16,357.42 A217.00,217.00 0 0 0 235.00,389.14 Z" fill="#b0c6ea" />
<path d="M217.41,385.62 A234.60,234.60 0 0 1 217.42,384.59 L235.02,384.84 A217.00,217.00 0 0 0 235.01,385.80 Z" fill="#a2b6d7" />
<path d="M217.55,379.60 A234.60,234.60 0 0 1 217.60,378.23 L235.19,378.96 A217.00,217.00 0 0 0 235.14,380.23 Z" fill="#bccfed" />
<path d="M218.03,370.84 A234.60,234.60 0 0 1 218.11,369.81 L235.65,371.18 A217.00,217.00 0 0 0 235.58,372.13 Z" fill="#9baece" />
<path d="M218.23,368.27 A234.60,234.60 0 0 1 218.35,366.90 L235.88,368.48 A217.00,217.00 0 0 0 235.77,369.75 Z" fill="#616d81" />
<path d="M218.48,365.53 A234.60,234.60 0 0 1 218.55,364.85 L236.06,366.58 A217.00,217.00 0 0 0 236.00,367.22 Z" fill="#8d9ebb" />
<path d="M218.99,360.74 A234.60,234.60 0 0 1 219.15,359.38 L236.62,361.52 A217.00,217.00 0 0 0 236.47,362.79 Z" fill="#b9cded" />
<path d="M221.63,343.64 A234.60,234.60 0 0 1 229.39,313.95 L246.09,319.50 A217.00,217.00 0 0 0 238.91,346.97 Z" fill="#a8e2dc" />
<path d="M222.23,340.63 A234.60,234.60 0 0 1 222.48,339.42 L239.70,343.07 A217.00,217.00 0 0 0 239.47,344.18 Z" fill="#9bd0ca" />
<path d="M223.45,335.08 A234.60,234.60 0 0 1 223.66,334.18 L240.79,338.22 A217.00,217.00 0 0 0 240.59,339.05 Z" fill="#b5e6e1" />
<path d="M224.76,329.71 A234.60,234.60 0 0 1 224.99,328.82 L242.02,333.26 A217.00,217.00 0 0 0 241.81,334.08 Z" fill="#97cbc6" />
<path d="M226.11,324.66 A234.60,234.60 0 0 1 226.36,323.78 L243.29,328.60 A217.00,217.00 0 0 0 243.06,329.42 Z" fill="#b2e5e0" />
<path d="M227.53,319.80 A234.60,234.60 0 0 1 227.89,318.63 L244.70,323.83 A217.00,217.00 0 0 0 244.37,324.92 Z" fill="#97cbc6" />
<path d="M233.57,302.40 A234.60,234.60 0 0 1 245.83,276.06 L261.30,284.46 A217.00,217.00 0 0 0 249.96,308.82 Z" fill="#d0ece6" />
<path d="M234.49,300.10 A234.60,234.60 0 0 1 234.82,299.30 L251.11,305.95 A217.00,217.00 0 0 0 250.81,306.70 Z" fill="#b7d0ca" />
<path d="M236.73,294.74 A234.60,234.60 0 0 1 237.08,293.94 L253.20,301.00 A217.00,217.00 0 0 0 252.88,301.74 Z" fill="#9cb1ac" />
<path d="M239.11,289.43 A234.60,234.60 0 0 1 239.48,288.64 L255.42,296.10 A217.00,217.00 0 0 0 255.08,296.83 Z" fill="#bbd4cf" />
<path d="M241.11,285.23 A234.60,234.60 0 0 1 241.49,284.45 L257.28,292.22 A217.00,217.00 0 0 0 256.93,292.94 Z" fill="#92a5a1" />
<path d="M243.58,280.30 A234.60,234.60 0 0 1 243.99,279.52 L259.59,287.66 A217.00,217.00 0 0 0 259.22,288.38 Z" fill="#b1c9c4" />
<path d="M252.62,264.38 A234.60,234.60 0 0 1 264.89,246.49 L278.92,257.10 A217.00,217.00 0 0 0 267.57,273.65 Z" fill="#a04ccc" />
<path d="M254.47,261.44 A234.60,234.60 0 0 1 255.41,259.98 L270.16,269.58 A217.00,217.00 0 0 0 269.29,270.93 Z" fill="#9044b8" />
<path d="M258.05,256.01 A234.60,234.60 0 0 1 259.04,254.57 L273.51,264.58 A217.00,217.00 0 0 0 272.60,265.91 Z" fill="#a85ad0" />
<path d="M261.16,251.56 A234.60,234.60 0 0 1 262.17,250.15 L276.41,260.49 A217.00,217.00 0 0 0 275.48,261.79 Z" fill="#8d43b4" />
<path d="M272.81,236.58 A234.60,234.60 0 0 1 287.86,220.38 L300.17,232.96 A217.00,217.00 0 0 0 286.26,247.94 Z" fill="#ac5cd4" />
<path d="M275.12,233.89 A234.60,234.60 0 0 1 276.28,232.56 L289.47,244.22 A217.00,217.00 0 0 0 288.39,245.45 Z" fill="#9b53bf" />
<path d="M278.80,229.77 A234.60,234.60 0 0 1 280.00,228.46 L292.90,240.43 A217.00,217.00 0 0 0 291.79,241.64 Z" fill="#b46cd8" />
<path d="M282.57,225.73 A234.60,234.60 0 0 1 283.80,224.46 L296.42,236.73 A217.00,217.00 0 0 0 295.28,237.90 Z" fill="#924eb4" />
<path d="M298.40,210.68 A234.60,234.60 0 0 1 312.13,199.66 L322.62,213.79 A217.00,217.00 0 0 0 309.92,223.98 Z" fill="#c29cec" />
<path d="M300.54,208.85 A234.60,234.60 0 0 1 301.62,207.94 L312.90,221.45 A217.00,217.00 0 0 0 311.90,222.29 Z" fill="#cbabef" />
<path d="M302.97,206.82 A234.60,234.60 0 0 1 304.06,205.92 L315.16,219.58 A217.00,217.00 0 0 0 314.15,220.41 Z" fill="#7e6599" />
<path d="M305.16,205.04 A234.60,234.60 0 0 1 306.26,204.16 L317.19,217.95 A217.00,217.00 0 0 0 316.17,218.77 Z" fill="#6b5682" />
<path d="M308.06,202.75 A234.60,234.60 0 0 1 309.17,201.89 L319.89,215.85 A217.00,217.00 0 0 0 318.86,216.65 Z" fill="#c8a6ee" />
<path d="M322.17,192.60 A234.60,234.60 0 0 1 338.98,182.42 L347.46,197.84 A217.00,217.00 0 0 0 331.91,207.26 Z" fill="#868082" />
<path d="M323.98,191.41 A234.60,234.60 0 0 1 325.30,190.56 L334.81,205.37 A217.00,217.00 0 0 0 333.58,206.16 Z" fill="#726d6e" />
<path d="M327.29,189.29 A234.60,234.60 0 0 1 328.63,188.46 L337.88,203.43 A217.00,217.00 0 0 0 336.65,204.20 Z" fill="#646062" />
<path d="M329.97,187.64 A234.60,234.60 0 0 1 331.65,186.62 L340.68,201.73 A217.00,217.00 0 0 0 339.12,202.67 Z" fill="#968084" />
<path d="M334.02,185.22 A234.60,234.60 0 0 1 335.38,184.44 L344.13,199.71 A217.00,217.00 0 0 0 342.87,200.44 Z" fill="#6b6668" />
<path d="M348.79,177.32 A234.60,234.60 0 0 1 405.23,158.11 L408.74,175.36 A217.00,217.00 0 0 0 356.53,193.13 Z" fill="#a8a4a8" />
<path d="M350.94,176.28 A234.60,234.60 0 0 1 352.02,175.77 L359.52,191.69 A217.00,217.00 0 0 0 358.52,192.17 Z" fill="#b5b2b5" />
<path d="M354.46,174.64 A234.60,234.60 0 0 1 356.10,173.90 L363.29,189.96 A217.00,217.00 0 0 0 361.78,190.64 Z" fill="#8f8b8f" />
<path d="M358.01,173.05 A234.60,234.60 0 0 1 359.11,172.57 L366.08,188.74 A217.00,217.00 0 0 0 365.06,189.18 Z" fill="#767376" />
<path d="M361.58,171.52 A234.60,234.60 0 0 1 363.24,170.84 L369.90,187.13 A217.00,217.00 0 0 0 368.37,187.76 Z" fill="#b2afb2" />
<path d="M366.02,169.73 A234.60,234.60 0 0 1 367.69,169.07 L374.01,185.50 A217.00,217.00 0 0 0 372.47,186.10 Z" fill="#949094" />
<path d="M371.04,167.81 A234.60,234.60 0 0 1 372.73,167.20 L378.68,183.76 A217.00,217.00 0 0 0 377.12,184.33 Z" fill="#b1adb1" />
<path d="M376.68,165.82 A234.60,234.60 0 0 1 378.38,165.25 L383.90,181.96 A217.00,217.00 0 0 0 382.33,182.49 Z" fill="#767376" />
<path d="M380.37,164.60 A234.60,234.60 0 0 1 381.51,164.24 L386.80,181.03 A217.00,217.00 0 0 0 385.74,181.36 Z" fill="#5c5a5c" />
<path d="M382.94,163.80 A234.60,234.60 0 0 1 384.65,163.27 L389.70,180.13 A217.00,217.00 0 0 0 388.12,180.62 Z" fill="#7e7b7e" />
<path d="M386.66,162.68 A234.60,234.60 0 0 1 387.81,162.35 L392.62,179.28 A217.00,217.00 0 0 0 391.56,179.59 Z" fill="#5c5a5c" />
<path d="M389.53,161.87 A234.60,234.60 0 0 1 390.69,161.55 L395.29,178.54 A217.00,217.00 0 0 0 394.22,178.83 Z" fill="#868386" />
<path d="M392.13,161.17 A234.60,234.60 0 0 1 393.87,160.72 L398.23,177.77 A217.00,217.00 0 0 0 396.62,178.18 Z" fill="#5c5a5c" />
<path d="M395.90,160.21 A234.60,234.60 0 0 1 397.06,159.92 L401.18,177.03 A217.00,217.00 0 0 0 400.11,177.30 Z" fill="#767376" />
<path d="M399.68,159.31 A234.60,234.60 0 0 1 401.43,158.92 L405.22,176.10 A217.00,217.00 0 0 0 403.60,176.47 Z" fill="#949094" />
<path d="M416.51,156.10 A234.60,234.60 0 0 1 439.72,153.72 L440.64,171.30 A217.00,217.00 0 0 0 419.18,173.50 Z" fill="#d0ccd0" />
<path d="M420.21,155.56 A234.60,234.60 0 0 1 422.06,155.32 L424.31,172.77 A217.00,217.00 0 0 0 422.59,173.00 Z" fill="#bfbcbf" />
<path d="M426.23,154.82 A234.60,234.60 0 0 1 427.62,154.67 L429.45,172.17 A217.00,217.00 0 0 0 428.17,172.31 Z" fill="#d7d4d7" />
<path d="M430.18,154.42 A234.60,234.60 0 0 1 431.57,154.29 L433.11,171.82 A217.00,217.00 0 0 0 431.82,171.94 Z" fill="#bbb8bb" />
<path d="M435.30,154.00 A234.60,234.60 0 0 1 437.16,153.87 L438.27,171.43 A217.00,217.00 0 0 0 436.55,171.55 Z" fill="#b7b4b7" />
</g>
<g filter="url(#bl2)" fill="none" stroke-linecap="round">
<path d="M463.8,181 C464,262 572,331 650.4,330.3" fill="none" stroke="#a5a4da" stroke-width="2.00" />
<path d="M650.4,330.3 C592.8,347.1 503,490 507.5,586.5" fill="none" stroke="#a5a4da" stroke-width="2.00" />
<path d="M246.5,420.5 C320,414 545,490 597.2,535.6" fill="none" stroke="#a5a4da" stroke-width="2.00" />
<path d="M246.5,358.9 Q286,364 291,377 Q288,386 245.8,387.4" fill="none" stroke="#8fdc7c" stroke-width="1.60" />
<path d="M602,246 L571,279.5 L606.7,251.7" fill="none" stroke="#8fdc7c" stroke-width="1.50" />
<path d="M389.5,538.8 L373.6,579.3" fill="none" stroke="#78c878" stroke-width="1.80" />
</g>
<g filter="url(#bl2)" fill="#2a2a2a" font-style="italic" font-size="22" text-anchor="middle">
<text transform="translate(502.5,139.6) rotate(11.5)" y="7.5">1</text>
<text transform="translate(606.1,186.8) rotate(37.5)" y="7.5">2</text>
<text transform="translate(673.9,265.5) rotate(61.1)" y="7.5">3</text>
<text transform="translate(703.3,354.5) rotate(82.4)" y="7.5">4</text>
<text transform="translate(699.4,443.3) rotate(282.6)" y="7.5">5</text>
<text transform="translate(666.5,523.1) rotate(302.2)" y="7.5">6</text>
<text transform="translate(611.7,584.9) rotate(320.9)" y="7.5">7</text>
<text transform="translate(546.8,623.1) rotate(338.1)" y="7.5">8</text>
<text transform="translate(477.4,640.2) rotate(354.2)" y="7.5">9</text>
<text transform="translate(406.7,637.4) rotate(370.3)" y="7.5">10</text>
<text transform="translate(341.5,616.1) rotate(385.9)" y="7.5">11</text>
<text transform="translate(284.7,578.4) rotate(401.3)" y="7.5">12</text>
<text transform="translate(241.8,529.8) rotate(416.0)" y="7.5">13</text>
<text transform="translate(215.1,478.2) rotate(429.1)" y="7.5">14</text>
<text transform="translate(200.9,423.1) rotate(442.1)" y="7.5">15</text>
<text transform="translate(199.1,370.8) rotate(273.9)" y="7.5">16</text>
<text transform="translate(206.7,323.9) rotate(284.6)" y="7.5">17</text>
<text transform="translate(222.2,281.1) rotate(294.9)" y="7.5">18</text>
<text transform="translate(243.0,244.6) rotate(304.5)" y="7.5">19</text>
<text transform="translate(266.3,215.4) rotate(312.9)" y="7.5">20</text>
<text transform="translate(293.3,190.3) rotate(321.2)" y="7.5">21</text>
<text transform="translate(320.7,171.2) rotate(328.8)" y="7.5">22</text>
<text transform="translate(370.3,148.0) rotate(341.2)" y="7.5" font-style="normal">X</text>
<text transform="translate(426.2,135.8) rotate(354.1)" y="7.5" font-style="normal">Y</text>
</g>
<text x="836.3" y="275.3" font-size="35.5" textLength="77.4" lengthAdjust="spacingAndGlyphs" fill="#111" letter-spacing="3.90" stroke="#111" stroke-width="1.0">ƐTO2</text>
<rect x="859.2" y="286.2" width="581.8" height="40.5" fill="#99a7d1" rx="2.5" />
<rect x="1035.2" y="281.3" width="53.5" height="48.4" fill="#424b7b" />
<rect x="1197.2" y="281.3" width="53.5" height="48.4" fill="#424b7b" />
<rect x="1287.0" y="281.3" width="53.0" height="48.4" fill="#424b7b" />
<rect x="1373.4" y="281.8" width="53.4" height="48.6" fill="#282d4b" />
<text x="1119.2" y="218.8" font-size="34.5" textLength="146.4" lengthAdjust="spacingAndGlyphs" fill="#111" letter-spacing="3.79" >Domaines</text>
<text x="1162.1" y="267.0" font-size="34.5" textLength="63.0" lengthAdjust="spacingAndGlyphs" fill="#111" letter-spacing="3.79" >NHR</text>
<text x="1338.2" y="220.3" font-size="34.5" textLength="133.4" lengthAdjust="spacingAndGlyphs" fill="#111" letter-spacing="3.79" >Domaine</text>
<text x="1362.0" y="268.6" font-size="34.5" textLength="80.1" lengthAdjust="spacingAndGlyphs" fill="#111" letter-spacing="3.79" >MYND</text>
<polygon points="1371.6,325.6 1383.2,347.4 1375.3,347.4 1375.3,367.6 1368.0,367.6 1368.0,347.4 1360.0,347.4" fill="#b52d20" />
<polygon points="1371.6,426.9 1383.2,405.5 1375.3,405.5 1375.3,384.7 1368.0,384.7 1368.0,405.5 1360.0,405.5" fill="#b52d20" />
<text x="842.1" y="426.2" font-size="35.5" textLength="86.9" lengthAdjust="spacingAndGlyphs" fill="#111" letter-spacing="3.90" stroke="#111" stroke-width="1.0">GLIS2</text>
<rect x="1288.0" y="426.5" width="528.0" height="40.6" fill="#e8b987" rx="2.5" />
<rect x="1428.0" y="424.1" width="41.3" height="48.6" fill="#c55a1e" />
<rect x="1477.6" y="424.1" width="41.3" height="48.6" fill="#c55a1e" />
<rect x="1529.0" y="424.1" width="41.4" height="48.6" fill="#c55a1e" />
<rect x="1582.7" y="424.1" width="41.3" height="48.6" fill="#c55a1e" />
<rect x="1637.0" y="424.1" width="41.4" height="48.6" fill="#c55a1e" />
<text x="1458.3" y="407.6" font-size="35.0" textLength="204.1" lengthAdjust="spacingAndGlyphs" fill="#111" letter-spacing="3.85" >Doigts de zinc</text>
<text x="838.1" y="539.9" font-size="35.5" textLength="178.3" lengthAdjust="spacingAndGlyphs" fill="#111" letter-spacing="3.90" stroke="#111" stroke-width="1.0">ƐTO2-GLIS2</text>
<rect x="859.2" y="554.2" width="520.8" height="40.8" fill="#99a7d1" rx="2.5" />
<rect x="1376.2" y="554.2" width="439.8" height="40.8" fill="#e8b987" rx="2.5" />
<rect x="1376.2" y="554.2" width="8.8" height="40.8" fill="#e8b987" />
<rect x="1037.0" y="548.7" width="52.8" height="48.4" fill="#424b7b" />
<rect x="1198.9" y="548.7" width="52.8" height="48.4" fill="#424b7b" />
<rect x="1288.0" y="548.7" width="53.5" height="48.4" fill="#424b7b" />
<rect x="1428.5" y="549.8" width="41.3" height="49.0" fill="#c55a1e" />
<rect x="1478.0" y="549.8" width="41.3" height="49.0" fill="#c55a1e" />
<rect x="1529.8" y="549.8" width="40.8" height="49.0" fill="#c55a1e" />
<rect x="1583.8" y="549.8" width="41.0" height="49.0" fill="#c55a1e" />
<rect x="1637.7" y="549.8" width="41.3" height="49.0" fill="#c55a1e" />
<circle cx="203.0" cy="722.9" r="23.6" fill="#ffffff" />
<text x="203.8" y="734.0" font-size="30.0" textLength="17.0" lengthAdjust="spacingAndGlyphs" font-weight="bold" fill="#111" text-anchor="middle" >B</text>
<text x="238.8" y="734.6" font-size="38.0" textLength="495.4" lengthAdjust="spacingAndGlyphs" font-weight="bold" fill="#111" letter-spacing="1.90" >Criblage de nouvelles molécules</text>
<text x="321.0" y="842.6" font-size="34.5" textLength="226.5" lengthAdjust="spacingAndGlyphs" fill="#111" letter-spacing="3.79" >PROLIFƐ́RATION</text>
<text x="1064.5" y="843.3" font-size="34.5" textLength="185.8" lengthAdjust="spacingAndGlyphs" fill="#111" letter-spacing="3.79" >MATURATION</text>
<line x1="313.6" y1="862.1" x2="562.0" y2="862.1" stroke="#5b6fb5" stroke-width="4.20" />
<line x1="685.3" y1="862.1" x2="1612.0" y2="862.1" stroke="#5b6fb5" stroke-width="4.20" />
<circle cx="421.7" cy="899.3" r="15.8" fill="#f5fbeb" stroke="#2a3052" stroke-width="3.60" />
<circle cx="417.9" cy="898.8" r="9.7" fill="#2a3052" />
<circle cx="426.3" cy="903.5" r="9.3" fill="#2a3052" />
<circle cx="422.5" cy="902.9" r="11.6" fill="#2a3052" />
<circle cx="419.2" cy="903.8" r="9.8" fill="#2a3052" />
<circle cx="462.0" cy="896.9" r="15.8" fill="#f5fbeb" stroke="#2a3052" stroke-width="3.60" />
<circle cx="458.2" cy="896.4" r="9.7" fill="#2a3052" />
<circle cx="466.6" cy="901.1" r="9.3" fill="#2a3052" />
<circle cx="462.8" cy="900.5" r="11.6" fill="#2a3052" />
<circle cx="459.5" cy="901.4" r="9.8" fill="#2a3052" />
<circle cx="403.9" cy="930.7" r="15.8" fill="#f5fbeb" stroke="#2a3052" stroke-width="3.60" />
<circle cx="400.1" cy="930.2" r="9.7" fill="#2a3052" />
<circle cx="408.5" cy="934.9" r="9.3" fill="#2a3052" />
<circle cx="404.7" cy="934.3" r="11.6" fill="#2a3052" />
<circle cx="401.4" cy="935.2" r="9.8" fill="#2a3052" />
<circle cx="442.0" cy="929.1" r="15.8" fill="#f5fbeb" stroke="#2a3052" stroke-width="3.60" />
<circle cx="438.2" cy="928.6" r="9.7" fill="#2a3052" />
<circle cx="446.6" cy="933.3" r="9.3" fill="#2a3052" />
<circle cx="442.8" cy="932.7" r="11.6" fill="#2a3052" />
<circle cx="439.5" cy="933.6" r="9.8" fill="#2a3052" />
<text x="414.3" y="982.7" font-size="33.5" textLength="35.8" lengthAdjust="spacingAndGlyphs" fill="#111" letter-spacing="3.69" >4N</text>
<text x="390.0" y="1026.0" font-size="33.5" textLength="98.2" lengthAdjust="spacingAndGlyphs" fill="#111" letter-spacing="3.69" >Mitose</text>
<circle cx="427.0" cy="1107.7" r="12.4" fill="#2a3052" />
<circle cx="450.0" cy="1103.0" r="12.4" fill="#2a3052" />
<circle cx="463.9" cy="1119.6" r="12.4" fill="#2a3052" />
<circle cx="420.5" cy="1128.7" r="12.4" fill="#2a3052" />
<circle cx="442.5" cy="1124.4" r="12.4" fill="#2a3052" />
<circle cx="458.0" cy="1141.0" r="12.4" fill="#2a3052" />
<circle cx="435.3" cy="1145.8" r="12.4" fill="#2a3052" />
<text x="423.4" y="1198.7" font-size="33.5" textLength="34.1" lengthAdjust="spacingAndGlyphs" fill="#111" letter-spacing="3.69" >2N</text>
<path d="M376.9,1133.2 C345,1122 313.1,1075 313.1,1019.6 C312.5,978 326,938 356,916.6" fill="none" stroke="#0b0b0b" stroke-width="4.30" />
<path d="M377.3,909.1 L358,935.6 L355.1,917.1 L345,906.2 Q361,910 377.3,909.1 Z" fill="#0b0b0b" />
<path d="M496,908.8 C522,916 560,962 560,1019.3 C560,1062 546,1105 517,1126" fill="none" stroke="#0b0b0b" stroke-width="4.30" />
<path d="M495.9,1132.7 L515.5,1107 L517.9,1125.3 L528.2,1135.8 Q512,1131.8 495.9,1132.7 Z" fill="#0b0b0b" />
<path d="M560.4,990.0 C560.5,992.3 559.5,996.8 561.1,1001.5 C562.7,1006.2 564.3,1008.7 568.5,1013.4 C572.7,1018.1 575.5,1020.9 581.9,1025.2 C588.3,1029.5 593.0,1031.9 600.4,1034.9 C607.8,1037.9 610.9,1038.7 619.0,1040.0 C627.1,1041.3 636.6,1041.0 641.0,1041.2" fill="none" stroke="#0b0b0b" stroke-width="5.80" />
<line x1="640.0" y1="1041.0" x2="837.0" y2="1041.0" stroke="#0b0b0b" stroke-width="6.30" />
<polygon points="835.0,1029.4 858.0,1041.0 835.0,1052.0" fill="#0b0b0b" />
<rect x="639.4" y="968.7" width="11.6" height="143.9" fill="#ad2b1f" />
<text x="678.8" y="1007.2" font-size="34.5" textLength="175.4" lengthAdjust="spacingAndGlyphs" fill="#111" letter-spacing="3.79" >Ɛndomitose</text>
<text x="573.1" y="1149.0" font-size="35.0" textLength="209.9" lengthAdjust="spacingAndGlyphs" fill="#a52a1e" letter-spacing="3.85" stroke="#a52a1e" stroke-width="0.9">Blocage dans</text>
<text x="609.5" y="1191.2" font-size="35.0" textLength="132.4" lengthAdjust="spacingAndGlyphs" fill="#a52a1e" letter-spacing="3.85" stroke="#a52a1e" stroke-width="0.9">les LAM7</text>
<circle cx="923.7" cy="1004.3" r="18.6" fill="#f5fbeb" stroke="#2a3052" stroke-width="3.60" />
<circle cx="928.1" cy="999.5" r="10.0" fill="#2a3052" />
<circle cx="916.5" cy="1005.3" r="8.5" fill="#2a3052" />
<circle cx="924.2" cy="1011.5" r="10.0" fill="#2a3052" />
<circle cx="923.7" cy="1005.3" r="9.2" fill="#2a3052" />
<circle cx="929.7" cy="1007.3" r="8.2" fill="#2a3052" />
<circle cx="900.6" cy="1037.2" r="18.6" fill="#f5fbeb" stroke="#2a3052" stroke-width="3.60" />
<circle cx="905.0" cy="1032.4" r="10.0" fill="#2a3052" />
<circle cx="893.4" cy="1038.2" r="8.5" fill="#2a3052" />
<circle cx="901.1" cy="1044.4" r="10.0" fill="#2a3052" />
<circle cx="900.6" cy="1038.2" r="9.2" fill="#2a3052" />
<circle cx="906.6" cy="1040.2" r="8.2" fill="#2a3052" />
<circle cx="941.1" cy="1041.2" r="18.6" fill="#f5fbeb" stroke="#2a3052" stroke-width="3.60" />
<circle cx="945.5" cy="1036.4" r="10.0" fill="#2a3052" />
<circle cx="933.9" cy="1042.2" r="8.5" fill="#2a3052" />
<circle cx="941.6" cy="1048.4" r="10.0" fill="#2a3052" />
<circle cx="941.1" cy="1042.2" r="9.2" fill="#2a3052" />
<circle cx="947.1" cy="1044.2" r="8.2" fill="#2a3052" />
<circle cx="906.1" cy="1078.2" r="18.6" fill="#f5fbeb" stroke="#2a3052" stroke-width="3.60" />
<circle cx="910.5" cy="1073.4" r="10.0" fill="#2a3052" />
<circle cx="898.9" cy="1079.2" r="8.5" fill="#2a3052" />
<circle cx="906.6" cy="1085.4" r="10.0" fill="#2a3052" />
<circle cx="906.1" cy="1079.2" r="9.2" fill="#2a3052" />
<circle cx="912.1" cy="1081.2" r="8.2" fill="#2a3052" />
<text x="911.4" y="1136.5" font-size="33.5" textLength="38.6" lengthAdjust="spacingAndGlyphs" fill="#111" letter-spacing="3.69" >8N</text>
<line x1="1001.0" y1="1039.8" x2="1216.0" y2="1039.8" stroke="#0b0b0b" stroke-width="6.40" stroke-dasharray="16.7 5.7"/>
<polygon points="1213.0,1028.9 1235.6,1039.8 1213.0,1051.2" fill="#0b0b0b" />
<text x="994.3" y="1086.0" font-size="31.5" textLength="235.6" lengthAdjust="spacingAndGlyphs" fill="#111" letter-spacing="3.46" >Mégacaryocytes</text>
<text x="1030.0" y="1135.3" font-size="32.0" textLength="164.6" lengthAdjust="spacingAndGlyphs" fill="#111" letter-spacing="3.52" >polyploïdes</text>
<circle cx="1317.2" cy="1028.6" r="44.7" fill="#f5fbeb" stroke="#2a3052" stroke-width="4.00" />
<circle cx="1301.0" cy="1001.4" r="10.5" fill="#2a3052" />
<circle cx="1317.2" cy="1008.1" r="12.4" fill="#2a3052" />
<circle cx="1332.4" cy="1008.1" r="9.5" fill="#2a3052" />
<circle cx="1293.4" cy="1011.0" r="11.4" fill="#2a3052" />
<circle cx="1298.1" cy="1027.2" r="11.4" fill="#2a3052" />
<circle cx="1305.7" cy="1044.3" r="13.3" fill="#2a3052" />
<circle cx="1319.1" cy="1050.0" r="12.4" fill="#2a3052" />
<circle cx="1332.4" cy="1051.0" r="11.4" fill="#2a3052" />
<circle cx="1341.0" cy="1031.0" r="9.5" fill="#2a3052" />
<circle cx="1348.6" cy="1040.5" r="9.5" fill="#2a3052" />
<circle cx="1319.1" cy="1029.1" r="23.8" fill="#2a3052" />
<polyline points="1356.5,1003.5 1368.2,999.1 1383.9,991.0 1399.6,982.9" fill="none" stroke="#2a3052" stroke-width="4.0" stroke-linecap="round"/>
<polygon points="1373.4,996.6 1370.3,1003.5 1363.0,1001.6 1366.1,994.7" fill="#f5fbeb" stroke="#2a3052" stroke-width="2.9" stroke-linejoin="round"/>
<polygon points="1389.1,988.5 1386.0,995.4 1378.7,993.5 1381.8,986.6" fill="#f5fbeb" stroke="#2a3052" stroke-width="2.9" stroke-linejoin="round"/>
<polygon points="1403.9,980.8 1401.8,987.4 1394.1,985.5 1397.4,978.4" fill="#f5fbeb" stroke="#2a3052" stroke-width="2.9" stroke-linejoin="round"/>
<polyline points="1362.0,1032.2 1380.1,1033.8 1402.0,1035.3 1422.0,1035.8" fill="none" stroke="#2a3052" stroke-width="3.4" stroke-linecap="round"/>
<polygon points="1386.9,1034.2 1379.8,1039.6 1373.3,1033.4 1380.4,1028.0" fill="#f5fbeb" stroke="#2a3052" stroke-width="2.9" stroke-linejoin="round"/>
<polygon points="1408.8,1035.7 1401.7,1041.1 1395.2,1034.9 1402.3,1029.5" fill="#f5fbeb" stroke="#2a3052" stroke-width="2.9" stroke-linejoin="round"/>
<polygon points="1427.7,1036.1 1421.6,1041.8 1414.8,1035.4 1422.4,1029.8" fill="#f5fbeb" stroke="#2a3052" stroke-width="2.9" stroke-linejoin="round"/>
<polyline points="1349.8,1061.8 1353.9,1067.2 1364.8,1072.4 1375.8,1077.7 1381.0,1082.9" fill="none" stroke="#2a3052" stroke-width="3.0" stroke-linecap="round"/>
<polygon points="1356.9,1069.2 1352.2,1069.7 1350.9,1065.2 1355.6,1064.7" fill="#f5fbeb" stroke="#2a3052" stroke-width="2.9" stroke-linejoin="round"/>
<polygon points="1367.8,1074.4 1363.1,1074.9 1361.8,1070.4 1366.5,1069.9" fill="#f5fbeb" stroke="#2a3052" stroke-width="2.9" stroke-linejoin="round"/>
<polygon points="1378.8,1079.7 1374.1,1080.2 1372.8,1075.7 1377.5,1075.2" fill="#f5fbeb" stroke="#2a3052" stroke-width="2.9" stroke-linejoin="round"/>
<polygon points="1383.5,1084.6 1379.2,1085.5 1377.9,1080.8 1382.8,1080.3" fill="#f5fbeb" stroke="#2a3052" stroke-width="2.9" stroke-linejoin="round"/>
<text x="1276.6" y="1133.4" font-size="33.5" textLength="75.8" lengthAdjust="spacingAndGlyphs" fill="#111" letter-spacing="3.69" >128N</text>
<line x1="1449.6" y1="1039.8" x2="1571.0" y2="1039.8" stroke="#0b0b0b" stroke-width="6.50" />
<polygon points="1569.0,1028.9 1591.6,1039.8 1569.0,1051.2" fill="#0b0b0b" />
<text x="1614.2" y="1054.3" font-size="34.5" textLength="158.8" lengthAdjust="spacingAndGlyphs" fill="#111" letter-spacing="3.79" >Plaquettes</text>
<text x="331.2" y="1272.4" font-size="34.5" textLength="137.8" lengthAdjust="spacingAndGlyphs" fill="#111" letter-spacing="3.79" >Criblage :</text>
<text x="289.8" y="1321.2" font-size="34.5" textLength="220.8" lengthAdjust="spacingAndGlyphs" fill="#111" letter-spacing="3.79" >induction de la</text>
<text x="310.5" y="1370.1" font-size="34.5" textLength="168.4" lengthAdjust="spacingAndGlyphs" fill="#111" letter-spacing="3.79" >maturation</text>
<rect x="527.3" y="1309.5" width="467.7" height="11.4" fill="#3b1585" />
<polygon points="993.6,1298.6 1027.2,1315.3 993.6,1332.4" fill="#3b1585" />
<text x="1094.4" y="1292.7" font-size="34.5" textLength="203.8" lengthAdjust="spacingAndGlyphs" fill="#111" letter-spacing="3.79" >Identification</text>
<text x="1093.6" y="1341.5" font-size="34.5" textLength="114.4" lengthAdjust="spacingAndGlyphs" fill="#111" letter-spacing="3.79" >du DiMF</text>
<text x="1216.3" y="1338.6" font-size="34.5" fill="#9b1c3b" >[</text>
<text x="1232.3" y="1341.5" font-size="34.5" textLength="29.3" lengthAdjust="spacingAndGlyphs" fill="#9b1c3b" letter-spacing="3.79" >12</text>
<text x="1264.2" y="1338.6" font-size="34.5" fill="#9b1c3b" >]</text>
<line x1="1470.4" y1="1201.4" x2="1431.7" y2="1222.8" stroke="#222222" stroke-width="2.80" stroke-linecap="round"/>
<line x1="1431.7" y1="1222.8" x2="1431.7" y2="1267.5" stroke="#222222" stroke-width="2.80" stroke-linecap="round"/>
<line x1="1431.7" y1="1267.5" x2="1470.9" y2="1287.7" stroke="#222222" stroke-width="2.80" stroke-linecap="round"/>
<line x1="1470.9" y1="1287.7" x2="1508.3" y2="1267.5" stroke="#222222" stroke-width="2.80" stroke-linecap="round"/>
<line x1="1508.3" y1="1267.5" x2="1508.3" y2="1222.8" stroke="#222222" stroke-width="2.80" stroke-linecap="round"/>
<line x1="1508.3" y1="1222.8" x2="1470.4" y2="1201.4" stroke="#222222" stroke-width="2.80" stroke-linecap="round"/>
<line x1="1508.3" y1="1222.8" x2="1546.2" y2="1201.4" stroke="#222222" stroke-width="2.80" stroke-linecap="round"/>
<line x1="1546.2" y1="1201.4" x2="1576.5" y2="1218.5" stroke="#222222" stroke-width="2.80" stroke-linecap="round"/>
<line x1="1584.0" y1="1267.5" x2="1546.2" y2="1287.7" stroke="#222222" stroke-width="2.80" stroke-linecap="round"/>
<line x1="1546.2" y1="1287.7" x2="1508.3" y2="1267.5" stroke="#222222" stroke-width="2.80" stroke-linecap="round"/>
<line x1="1584.0" y1="1234.6" x2="1584.0" y2="1267.5" stroke="#222222" stroke-width="2.80" stroke-linecap="round"/>
<line x1="1577.4" y1="1235.0" x2="1577.4" y2="1262.5" stroke="#222222" stroke-width="2.80" stroke-linecap="round"/>
<line x1="1469.1" y1="1209.7" x2="1439.7" y2="1225.9" stroke="#222222" stroke-width="2.80" stroke-linecap="round"/>
<line x1="1439.7" y1="1264.2" x2="1469.4" y2="1279.5" stroke="#222222" stroke-width="2.80" stroke-linecap="round"/>
<line x1="1516.2" y1="1225.9" x2="1545.0" y2="1209.7" stroke="#222222" stroke-width="2.80" stroke-linecap="round"/>
<line x1="1516.1" y1="1264.2" x2="1544.9" y2="1279.5" stroke="#222222" stroke-width="2.80" stroke-linecap="round"/>
<text x="1582.5" y="1231.0" font-size="25.0" textLength="13.5" lengthAdjust="spacingAndGlyphs" fill="#222222" text-anchor="middle" >N</text>
<line x1="1470.9" y1="1287.7" x2="1470.9" y2="1322.0" stroke="#222222" stroke-width="2.80" stroke-linecap="round"/>
<text x="1469.2" y="1342.0" font-size="25.0" textLength="13.0" lengthAdjust="spacingAndGlyphs" fill="#222222" text-anchor="middle" >S</text>
<text x="1426.1" y="1342.0" font-size="25.0" textLength="13.5" lengthAdjust="spacingAndGlyphs" fill="#222222" text-anchor="middle" >O</text>
<text x="1513.2" y="1342.0" font-size="25.0" textLength="13.5" lengthAdjust="spacingAndGlyphs" fill="#222222" text-anchor="middle" >O</text>
<line x1="1437.4" y1="1329.4" x2="1461.0" y2="1329.4" stroke="#222222" stroke-width="2.80" />
<line x1="1479.4" y1="1329.4" x2="1503.4" y2="1329.4" stroke="#222222" stroke-width="2.80" />
<line x1="1437.4" y1="1336.8" x2="1461.0" y2="1336.8" stroke="#222222" stroke-width="2.80" />
<line x1="1479.4" y1="1336.8" x2="1503.4" y2="1336.8" stroke="#222222" stroke-width="2.80" />
<line x1="1470.6" y1="1343.5" x2="1470.6" y2="1365.0" stroke="#222222" stroke-width="2.80" stroke-linecap="round"/>
<line x1="1546.2" y1="1287.7" x2="1546.7" y2="1321.3" stroke="#222222" stroke-width="2.80" stroke-linecap="round"/>
<text x="1536.5" y="1344.0" font-size="25.0" textLength="27.7" lengthAdjust="spacingAndGlyphs" fill="#222222" letter-spacing="2.75" >CH</text>
<text x="1563.2" y="1354.2" font-size="14.0" textLength="7.6" lengthAdjust="spacingAndGlyphs" fill="#222222" >3</text>
<text x="1368.7" y="1376.2" font-size="25.0" textLength="13.2" lengthAdjust="spacingAndGlyphs" fill="#222222" >H</text>
<text x="1382.1" y="1386.2" font-size="14.0" textLength="7.4" lengthAdjust="spacingAndGlyphs" fill="#222222" >3</text>
<text x="1390.0" y="1376.2" font-size="25.0" textLength="11.6" lengthAdjust="spacingAndGlyphs" fill="#222222" >C</text>
<text x="1471.0" y="1387.8" font-size="25.0" textLength="13.5" lengthAdjust="spacingAndGlyphs" fill="#222222" text-anchor="middle" >N</text>
<line x1="1406.4" y1="1375.2" x2="1430.5" y2="1394.2" stroke="#222222" stroke-width="2.80" stroke-linecap="round"/>
<line x1="1460.3" y1="1381.1" x2="1430.5" y2="1394.2" stroke="#222222" stroke-width="2.80" stroke-linecap="round"/>
<line x1="1430.5" y1="1394.2" x2="1421.6" y2="1438.3" stroke="#222222" stroke-width="2.80" stroke-linecap="round"/>
<line x1="1421.6" y1="1438.3" x2="1443.4" y2="1466.1" stroke="#222222" stroke-width="2.80" stroke-linecap="round"/>
<line x1="1457.7" y1="1471.5" x2="1492.3" y2="1471.5" stroke="#222222" stroke-width="2.80" stroke-linecap="round"/>
<line x1="1492.3" y1="1471.5" x2="1518.9" y2="1438.3" stroke="#222222" stroke-width="2.80" stroke-linecap="round"/>
<line x1="1518.9" y1="1438.3" x2="1509.6" y2="1394.6" stroke="#222222" stroke-width="2.80" stroke-linecap="round"/>
<line x1="1509.6" y1="1394.6" x2="1481.3" y2="1381.1" stroke="#222222" stroke-width="2.80" stroke-linecap="round"/>
<text x="1448.6" y="1483.6" font-size="25.0" textLength="13.5" lengthAdjust="spacingAndGlyphs" fill="#222222" text-anchor="middle" >N</text>
<text x="1449.3" y="1505.4" font-size="25.0" textLength="13.2" lengthAdjust="spacingAndGlyphs" fill="#222222" text-anchor="middle" >H</text>
<circle cx="203.0" cy="1522.9" r="23.6" fill="#ffffff" />
<text x="203.0" y="1534.3" font-size="30.0" textLength="15.5" lengthAdjust="spacingAndGlyphs" font-weight="bold" fill="#111" text-anchor="middle" stroke="#111" stroke-width="0.7">C</text>
<text x="237.8" y="1537.2" font-size="38.0" textLength="276.4" lengthAdjust="spacingAndGlyphs" font-weight="bold" fill="#111" letter-spacing="1.90" >Tests précliniques</text>
<text x="522.0" y="1537.2" font-size="38.0" textLength="95.4" lengthAdjust="spacingAndGlyphs" font-weight="bold" fill="#111" font-style="italic" letter-spacing="1.90" >in vivo</text>
<text x="475.0" y="1642.8" font-size="33.5" textLength="117.1" lengthAdjust="spacingAndGlyphs" fill="#111" letter-spacing="3.69" >Placebo</text>
<text x="821.2" y="1638.4" font-size="33.5" textLength="70.8" lengthAdjust="spacingAndGlyphs" fill="#111" letter-spacing="3.69" >DiMF</text>
<rect x="362.9" y="1670.0" width="310.2" height="308.8" fill="#fcfafa" stroke="#262626" stroke-width="2.2"/>
<rect x="411.5" y="1673.0" width="49.5" height="24.5" fill="#ffffff" />
<rect x="451.5" y="1751.0" width="41.0" height="29.5" fill="#ffffff" />
<rect x="514.4" y="1797.7" width="83.8" height="35.3" fill="#ffffff" />
<line x1="361.9" y1="1978.8" x2="674.1" y2="1978.8" stroke="#111" stroke-width="2.60" />
<line x1="354.3" y1="1701.1" x2="362.9" y2="1701.1" stroke="#222" stroke-width="1.50" />
<line x1="354.3" y1="1794.5" x2="362.9" y2="1794.5" stroke="#222" stroke-width="1.50" />
<line x1="354.3" y1="1887.7" x2="362.9" y2="1887.7" stroke="#222" stroke-width="1.50" />
<line x1="354.3" y1="1979.1" x2="362.9" y2="1979.1" stroke="#222" stroke-width="1.50" />
<line x1="359.0" y1="1678.2" x2="362.9" y2="1678.2" stroke="#222" stroke-width="1.30" />
<line x1="359.0" y1="1723.9" x2="362.9" y2="1723.9" stroke="#222" stroke-width="1.30" />
<line x1="359.0" y1="1747.2" x2="362.9" y2="1747.2" stroke="#222" stroke-width="1.30" />
<line x1="359.0" y1="1771.0" x2="362.9" y2="1771.0" stroke="#222" stroke-width="1.30" />
<line x1="359.0" y1="1817.7" x2="362.9" y2="1817.7" stroke="#222" stroke-width="1.30" />
<line x1="359.0" y1="1840.2" x2="362.9" y2="1840.2" stroke="#222" stroke-width="1.30" />
<line x1="359.0" y1="1863.1" x2="362.9" y2="1863.1" stroke="#222" stroke-width="1.30" />
<line x1="359.0" y1="1910.1" x2="362.9" y2="1910.1" stroke="#222" stroke-width="1.30" />
<line x1="359.0" y1="1933.4" x2="362.9" y2="1933.4" stroke="#222" stroke-width="1.30" />
<line x1="359.0" y1="1956.5" x2="362.9" y2="1956.5" stroke="#222" stroke-width="1.30" />
<line x1="362.9" y1="1979.3" x2="362.9" y2="1985.3" stroke="#1a1a1a" stroke-width="1.50" />
<line x1="386.2" y1="1979.3" x2="386.2" y2="1982.9" stroke="#1a1a1a" stroke-width="1.20" />
<line x1="399.9" y1="1979.3" x2="399.9" y2="1982.9" stroke="#1a1a1a" stroke-width="1.20" />
<line x1="409.5" y1="1979.3" x2="409.5" y2="1982.9" stroke="#1a1a1a" stroke-width="1.20" />
<line x1="417.0" y1="1979.3" x2="417.0" y2="1984.1" stroke="#1a1a1a" stroke-width="1.20" />
<line x1="423.2" y1="1979.3" x2="423.2" y2="1982.9" stroke="#1a1a1a" stroke-width="1.20" />
<line x1="428.4" y1="1979.3" x2="428.4" y2="1982.9" stroke="#1a1a1a" stroke-width="1.20" />
<line x1="432.8" y1="1979.3" x2="432.8" y2="1982.9" stroke="#1a1a1a" stroke-width="1.20" />
<line x1="436.8" y1="1979.3" x2="436.8" y2="1982.9" stroke="#1a1a1a" stroke-width="1.20" />
<line x1="440.3" y1="1979.3" x2="440.3" y2="1985.3" stroke="#1a1a1a" stroke-width="1.50" />
<line x1="463.7" y1="1979.3" x2="463.7" y2="1982.9" stroke="#1a1a1a" stroke-width="1.20" />
<line x1="477.3" y1="1979.3" x2="477.3" y2="1982.9" stroke="#1a1a1a" stroke-width="1.20" />
<line x1="487.0" y1="1979.3" x2="487.0" y2="1982.9" stroke="#1a1a1a" stroke-width="1.20" />
<line x1="494.5" y1="1979.3" x2="494.5" y2="1984.1" stroke="#1a1a1a" stroke-width="1.20" />
<line x1="500.6" y1="1979.3" x2="500.6" y2="1982.9" stroke="#1a1a1a" stroke-width="1.20" />
<line x1="505.8" y1="1979.3" x2="505.8" y2="1982.9" stroke="#1a1a1a" stroke-width="1.20" />
<line x1="510.3" y1="1979.3" x2="510.3" y2="1982.9" stroke="#1a1a1a" stroke-width="1.20" />
<line x1="514.3" y1="1979.3" x2="514.3" y2="1982.9" stroke="#1a1a1a" stroke-width="1.20" />
<line x1="517.8" y1="1979.3" x2="517.8" y2="1985.3" stroke="#1a1a1a" stroke-width="1.50" />
<line x1="541.1" y1="1979.3" x2="541.1" y2="1982.9" stroke="#1a1a1a" stroke-width="1.20" />
<line x1="554.8" y1="1979.3" x2="554.8" y2="1982.9" stroke="#1a1a1a" stroke-width="1.20" />
<line x1="564.4" y1="1979.3" x2="564.4" y2="1982.9" stroke="#1a1a1a" stroke-width="1.20" />
<line x1="571.9" y1="1979.3" x2="571.9" y2="1984.1" stroke="#1a1a1a" stroke-width="1.20" />
<line x1="578.1" y1="1979.3" x2="578.1" y2="1982.9" stroke="#1a1a1a" stroke-width="1.20" />
<line x1="583.3" y1="1979.3" x2="583.3" y2="1982.9" stroke="#1a1a1a" stroke-width="1.20" />
<line x1="587.7" y1="1979.3" x2="587.7" y2="1982.9" stroke="#1a1a1a" stroke-width="1.20" />
<line x1="591.7" y1="1979.3" x2="591.7" y2="1982.9" stroke="#1a1a1a" stroke-width="1.20" />
<line x1="595.2" y1="1979.3" x2="595.2" y2="1985.3" stroke="#1a1a1a" stroke-width="1.50" />
<line x1="618.6" y1="1979.3" x2="618.6" y2="1982.9" stroke="#1a1a1a" stroke-width="1.20" />
<line x1="632.2" y1="1979.3" x2="632.2" y2="1982.9" stroke="#1a1a1a" stroke-width="1.20" />
<line x1="641.9" y1="1979.3" x2="641.9" y2="1982.9" stroke="#1a1a1a" stroke-width="1.20" />
<line x1="649.4" y1="1979.3" x2="649.4" y2="1984.1" stroke="#1a1a1a" stroke-width="1.20" />
<line x1="655.5" y1="1979.3" x2="655.5" y2="1982.9" stroke="#1a1a1a" stroke-width="1.20" />
<line x1="660.7" y1="1979.3" x2="660.7" y2="1982.9" stroke="#1a1a1a" stroke-width="1.20" />
<line x1="665.2" y1="1979.3" x2="665.2" y2="1982.9" stroke="#1a1a1a" stroke-width="1.20" />
<line x1="669.2" y1="1979.3" x2="669.2" y2="1982.9" stroke="#1a1a1a" stroke-width="1.20" />
<line x1="672.7" y1="1979.3" x2="672.7" y2="1985.3" stroke="#1a1a1a" stroke-width="1.50" />
<path d="M362.9,1978.2 C372.3,1978.2 405.5,1978.4 415.3,1978.2 C425.1,1978.0 415.1,1977.3 417.2,1977.0 C419.2,1976.8 424.3,1977.6 426.7,1976.7 C429.1,1975.8 429.3,1976.0 430.5,1972.1 C431.7,1968.2 432.4,1963.2 433.4,1954.9 C434.3,1946.7 435.1,1938.4 435.9,1926.3 C436.6,1914.3 437.0,1905.4 437.6,1888.2 C438.2,1871.1 438.6,1851.6 439.1,1831.1 C439.6,1810.5 440.0,1790.3 440.4,1773.9 C440.9,1757.4 441.2,1746.3 441.6,1739.6 C441.9,1732.9 442.1,1732.3 442.3,1736.7 C442.6,1741.2 442.8,1750.8 443.1,1764.4 C443.4,1777.9 443.7,1793.1 444.1,1812.0 C444.4,1830.9 444.8,1853.0 445.2,1869.2 C445.6,1885.3 445.9,1893.9 446.3,1901.6 C446.8,1909.3 447.2,1911.7 447.7,1912.1 C448.2,1912.4 448.5,1907.4 449.0,1903.5 C449.5,1899.6 450.0,1893.6 450.5,1890.5 C451.1,1887.4 451.5,1886.1 452.1,1886.3 C452.6,1886.6 453.1,1887.9 453.8,1892.0 C454.4,1896.2 455.0,1902.0 455.7,1909.2 C456.4,1916.4 457.0,1923.8 457.8,1932.1 C458.6,1940.3 459.1,1948.4 460.1,1954.9 C461.0,1961.5 461.7,1965.1 462.9,1968.3 C464.1,1971.4 464.9,1971.1 466.7,1972.5 C468.6,1973.9 470.2,1975.3 473.4,1976.1 C476.7,1976.9 481.4,1976.9 484.8,1977.0 C488.3,1977.1 490.4,1976.9 492.5,1976.7 C494.5,1976.4 493.9,1975.7 496.3,1975.5 C498.7,1975.3 503.4,1975.5 505.8,1975.7 C508.2,1976.0 508.2,1976.9 509.6,1976.9 C511.0,1976.9 511.2,1976.0 513.4,1975.7 C515.7,1975.5 519.3,1975.2 522.0,1975.5 C524.8,1975.8 526.8,1977.2 528.7,1977.4 C530.6,1977.6 530.1,1977.0 532.5,1976.7 C534.9,1976.3 539.4,1975.4 542.0,1975.3 C544.6,1975.3 545.2,1975.8 546.8,1976.3 C548.3,1976.8 527.9,1977.7 550.6,1978.0 C573.3,1978.3 651.1,1978.2 673.1,1978.2" fill="none" stroke="#1e1e1e" stroke-width="1.90" stroke-linejoin="round"/>
<text x="424.6" y="1714.8" font-size="26.0" textLength="28.5" lengthAdjust="spacingAndGlyphs" fill="#111" letter-spacing="2.86" >2n</text>
<line x1="430.5" y1="1732.9" x2="448.3" y2="1732.9" stroke="#2a2a2a" stroke-width="1.90" />
<line x1="430.5" y1="1726.2" x2="430.5" y2="1739.6" stroke="#2a2a2a" stroke-width="1.90" />
<line x1="448.3" y1="1726.2" x2="448.3" y2="1739.6" stroke="#2a2a2a" stroke-width="1.90" />
<text x="448.4" y="1781.5" font-size="26.0" textLength="28.9" lengthAdjust="spacingAndGlyphs" fill="#111" letter-spacing="2.86" >4n</text>
<line x1="451.1" y1="1796.4" x2="465.2" y2="1796.4" stroke="#2a2a2a" stroke-width="1.90" />
<line x1="451.1" y1="1790.2" x2="451.1" y2="1802.6" stroke="#2a2a2a" stroke-width="1.90" />
<line x1="465.2" y1="1790.2" x2="465.2" y2="1802.6" stroke="#2a2a2a" stroke-width="1.90" />
<text x="540.4" y="1836.8" font-size="26.0" textLength="46.1" lengthAdjust="spacingAndGlyphs" fill="#111" letter-spacing="2.86" >&gt; 4n</text>
<line x1="481.6" y1="1848.2" x2="637.9" y2="1848.2" stroke="#2a2a2a" stroke-width="1.90" />
<line x1="481.6" y1="1841.5" x2="481.6" y2="1854.9" stroke="#2a2a2a" stroke-width="1.90" />
<line x1="637.9" y1="1841.5" x2="637.9" y2="1854.9" stroke="#2a2a2a" stroke-width="1.90" />
<rect x="466.7" y="1925.3" width="101.3" height="6.5" fill="#4f9a5b" />
<polygon points="566.8,1913.0 597.8,1928.5 566.8,1944.0" fill="#4f9a5b" />
<rect x="718.5" y="1672.4" width="307.0" height="306.0" fill="#fcfafa" stroke="#262626" stroke-width="2.2"/>
<rect x="774.0" y="1676.0" width="52.0" height="31.0" fill="#ffffff" />
<rect x="808.0" y="1759.0" width="49.0" height="27.0" fill="#ffffff" />
<rect x="862.0" y="1805.0" width="98.0" height="40.0" fill="#ffffff" />
<line x1="717.5" y1="1978.4" x2="1026.5" y2="1978.4" stroke="#111" stroke-width="2.60" />
<line x1="709.5" y1="1688.7" x2="718.5" y2="1688.7" stroke="#222" stroke-width="1.50" />
<line x1="709.5" y1="1746.2" x2="718.5" y2="1746.2" stroke="#222" stroke-width="1.50" />
<line x1="709.5" y1="1804.8" x2="718.5" y2="1804.8" stroke="#222" stroke-width="1.50" />
<line x1="709.5" y1="1862.5" x2="718.5" y2="1862.5" stroke="#222" stroke-width="1.50" />
<line x1="709.5" y1="1921.0" x2="718.5" y2="1921.0" stroke="#222" stroke-width="1.50" />
<line x1="709.5" y1="1978.8" x2="718.5" y2="1978.8" stroke="#222" stroke-width="1.50" />
<line x1="714.3" y1="1673.4" x2="718.5" y2="1673.4" stroke="#222" stroke-width="1.30" />
<line x1="714.3" y1="1703.0" x2="718.5" y2="1703.0" stroke="#222" stroke-width="1.30" />
<line x1="714.3" y1="1717.3" x2="718.5" y2="1717.3" stroke="#222" stroke-width="1.30" />
<line x1="714.3" y1="1732.0" x2="718.5" y2="1732.0" stroke="#222" stroke-width="1.30" />
<line x1="714.3" y1="1760.5" x2="718.5" y2="1760.5" stroke="#222" stroke-width="1.30" />
<line x1="714.3" y1="1774.8" x2="718.5" y2="1774.8" stroke="#222" stroke-width="1.30" />
<line x1="714.3" y1="1790.1" x2="718.5" y2="1790.1" stroke="#222" stroke-width="1.30" />
<line x1="714.3" y1="1819.2" x2="718.5" y2="1819.2" stroke="#222" stroke-width="1.30" />
<line x1="714.3" y1="1833.9" x2="718.5" y2="1833.9" stroke="#222" stroke-width="1.30" />
<line x1="714.3" y1="1848.2" x2="718.5" y2="1848.2" stroke="#222" stroke-width="1.30" />
<line x1="714.3" y1="1876.8" x2="718.5" y2="1876.8" stroke="#222" stroke-width="1.30" />
<line x1="714.3" y1="1892.0" x2="718.5" y2="1892.0" stroke="#222" stroke-width="1.30" />
<line x1="714.3" y1="1906.3" x2="718.5" y2="1906.3" stroke="#222" stroke-width="1.30" />
<line x1="714.3" y1="1935.9" x2="718.5" y2="1935.9" stroke="#222" stroke-width="1.30" />
<line x1="714.3" y1="1950.2" x2="718.5" y2="1950.2" stroke="#222" stroke-width="1.30" />
<line x1="714.3" y1="1964.5" x2="718.5" y2="1964.5" stroke="#222" stroke-width="1.30" />
<line x1="718.5" y1="1978.9" x2="718.5" y2="1984.9" stroke="#1a1a1a" stroke-width="1.50" />
<line x1="741.6" y1="1978.9" x2="741.6" y2="1982.5" stroke="#1a1a1a" stroke-width="1.20" />
<line x1="755.0" y1="1978.9" x2="755.0" y2="1982.5" stroke="#1a1a1a" stroke-width="1.20" />
<line x1="764.6" y1="1978.9" x2="764.6" y2="1982.5" stroke="#1a1a1a" stroke-width="1.20" />
<line x1="772.0" y1="1978.9" x2="772.0" y2="1983.7" stroke="#1a1a1a" stroke-width="1.20" />
<line x1="778.1" y1="1978.9" x2="778.1" y2="1982.5" stroke="#1a1a1a" stroke-width="1.20" />
<line x1="783.2" y1="1978.9" x2="783.2" y2="1982.5" stroke="#1a1a1a" stroke-width="1.20" />
<line x1="787.7" y1="1978.9" x2="787.7" y2="1982.5" stroke="#1a1a1a" stroke-width="1.20" />
<line x1="791.6" y1="1978.9" x2="791.6" y2="1982.5" stroke="#1a1a1a" stroke-width="1.20" />
<line x1="795.1" y1="1978.9" x2="795.1" y2="1984.9" stroke="#1a1a1a" stroke-width="1.50" />
<line x1="818.2" y1="1978.9" x2="818.2" y2="1982.5" stroke="#1a1a1a" stroke-width="1.20" />
<line x1="831.6" y1="1978.9" x2="831.6" y2="1982.5" stroke="#1a1a1a" stroke-width="1.20" />
<line x1="841.2" y1="1978.9" x2="841.2" y2="1982.5" stroke="#1a1a1a" stroke-width="1.20" />
<line x1="848.6" y1="1978.9" x2="848.6" y2="1983.7" stroke="#1a1a1a" stroke-width="1.20" />
<line x1="854.7" y1="1978.9" x2="854.7" y2="1982.5" stroke="#1a1a1a" stroke-width="1.20" />
<line x1="859.8" y1="1978.9" x2="859.8" y2="1982.5" stroke="#1a1a1a" stroke-width="1.20" />
<line x1="864.3" y1="1978.9" x2="864.3" y2="1982.5" stroke="#1a1a1a" stroke-width="1.20" />
<line x1="868.2" y1="1978.9" x2="868.2" y2="1982.5" stroke="#1a1a1a" stroke-width="1.20" />
<line x1="871.7" y1="1978.9" x2="871.7" y2="1984.9" stroke="#1a1a1a" stroke-width="1.50" />
<line x1="894.8" y1="1978.9" x2="894.8" y2="1982.5" stroke="#1a1a1a" stroke-width="1.20" />
<line x1="908.2" y1="1978.9" x2="908.2" y2="1982.5" stroke="#1a1a1a" stroke-width="1.20" />
<line x1="917.8" y1="1978.9" x2="917.8" y2="1982.5" stroke="#1a1a1a" stroke-width="1.20" />
<line x1="925.2" y1="1978.9" x2="925.2" y2="1983.7" stroke="#1a1a1a" stroke-width="1.20" />
<line x1="931.3" y1="1978.9" x2="931.3" y2="1982.5" stroke="#1a1a1a" stroke-width="1.20" />
<line x1="936.4" y1="1978.9" x2="936.4" y2="1982.5" stroke="#1a1a1a" stroke-width="1.20" />
<line x1="940.9" y1="1978.9" x2="940.9" y2="1982.5" stroke="#1a1a1a" stroke-width="1.20" />
<line x1="944.8" y1="1978.9" x2="944.8" y2="1982.5" stroke="#1a1a1a" stroke-width="1.20" />
<line x1="948.3" y1="1978.9" x2="948.3" y2="1984.9" stroke="#1a1a1a" stroke-width="1.50" />
<line x1="971.4" y1="1978.9" x2="971.4" y2="1982.5" stroke="#1a1a1a" stroke-width="1.20" />
<line x1="984.8" y1="1978.9" x2="984.8" y2="1982.5" stroke="#1a1a1a" stroke-width="1.20" />
<line x1="994.4" y1="1978.9" x2="994.4" y2="1982.5" stroke="#1a1a1a" stroke-width="1.20" />
<line x1="1001.8" y1="1978.9" x2="1001.8" y2="1983.7" stroke="#1a1a1a" stroke-width="1.20" />
<line x1="1007.9" y1="1978.9" x2="1007.9" y2="1982.5" stroke="#1a1a1a" stroke-width="1.20" />
<line x1="1013.0" y1="1978.9" x2="1013.0" y2="1982.5" stroke="#1a1a1a" stroke-width="1.20" />
<line x1="1017.5" y1="1978.9" x2="1017.5" y2="1982.5" stroke="#1a1a1a" stroke-width="1.20" />
<line x1="1021.4" y1="1978.9" x2="1021.4" y2="1982.5" stroke="#1a1a1a" stroke-width="1.20" />
<line x1="1024.9" y1="1978.9" x2="1024.9" y2="1984.9" stroke="#1a1a1a" stroke-width="1.50" />
<path d="M718.5,1977.8 C727.5,1977.8 759.1,1978.0 768.6,1977.8 C778.1,1977.6 769.2,1976.9 771.5,1976.5 C773.7,1976.1 778.7,1976.7 781.0,1975.5 C783.3,1974.4 783.4,1973.9 784.4,1970.2 C785.5,1966.5 786.0,1962.8 786.7,1954.9 C787.5,1947.0 788.0,1936.6 788.6,1926.3 C789.2,1916.1 789.6,1906.3 790.1,1897.8 C790.7,1889.2 790.9,1884.0 791.5,1878.7 C792.1,1873.4 792.4,1872.0 793.4,1868.2 C794.4,1864.4 795.9,1861.9 797.2,1857.7 C798.5,1853.6 799.7,1850.2 800.6,1845.3 C801.6,1840.5 801.8,1837.1 802.3,1831.1 C802.9,1825.1 803.4,1819.2 803.9,1812.0 C804.3,1804.8 804.5,1795.7 804.8,1791.0 C805.2,1786.4 805.4,1785.6 805.8,1786.3 C806.1,1787.0 806.4,1788.5 806.7,1794.8 C807.1,1801.2 807.5,1809.9 807.9,1821.5 C808.3,1833.2 808.5,1844.2 809.0,1859.6 C809.5,1875.1 810.0,1893.6 810.5,1907.3 C811.1,1921.0 811.5,1927.8 812.1,1935.9 C812.6,1943.9 813.0,1948.4 813.8,1952.1 C814.6,1955.8 815.5,1955.3 816.6,1956.5 C817.8,1957.7 818.6,1957.8 820.1,1958.7 C821.5,1959.7 823.1,1961.5 824.8,1962.0 C826.5,1962.4 827.7,1961.3 829.6,1961.2 C831.5,1961.2 833.4,1962.2 835.3,1961.8 C837.2,1961.4 838.4,1960.2 840.1,1958.7 C841.8,1957.3 843.3,1955.9 844.8,1954.0 C846.4,1952.1 847.4,1950.0 848.7,1948.3 C850.0,1946.6 850.9,1944.3 852.1,1944.5 C853.3,1944.6 854.1,1947.2 855.3,1949.2 C856.6,1951.2 857.6,1953.7 859.1,1955.5 C860.7,1957.3 862.4,1958.5 863.9,1959.1 C865.4,1959.8 866.5,1959.9 867.7,1959.1 C868.9,1958.4 869.6,1956.8 870.6,1954.9 C871.5,1953.1 872.3,1950.1 873.1,1948.8 C873.8,1947.6 874.2,1947.1 875.0,1947.9 C875.7,1948.6 876.3,1950.0 877.2,1953.0 C878.2,1956.0 878.9,1961.0 880.1,1964.5 C881.3,1967.9 882.4,1970.5 883.9,1972.1 C885.5,1973.7 887.1,1973.8 888.7,1973.4 C890.2,1973.1 891.1,1971.9 892.5,1970.2 C893.9,1968.5 895.2,1965.5 896.3,1964.1 C897.4,1962.7 897.8,1962.1 898.8,1962.6 C899.7,1963.0 900.4,1964.7 901.6,1966.8 C902.9,1968.8 904.0,1972.3 905.8,1974.0 C907.6,1975.6 908.8,1975.3 911.5,1975.9 C914.3,1976.5 918.0,1977.0 921.1,1977.4 C924.2,1977.8 909.9,1977.9 928.7,1978.0 C947.5,1978.1 1008.1,1978.0 1025.5,1978.0" fill="none" stroke="#1e1e1e" stroke-width="1.90" stroke-linejoin="round"/>
<polygon points="804.2,1790.0 805.8,1757.0 807.6,1790.0" fill="#9a9a9a" opacity="0.7"/>
<text x="779.8" y="1722.0" font-size="26.0" textLength="27.9" lengthAdjust="spacingAndGlyphs" fill="#111" letter-spacing="2.86" >2n</text>
<line x1="785.4" y1="1733.9" x2="802.9" y2="1733.9" stroke="#2a2a2a" stroke-width="1.90" />
<line x1="785.4" y1="1727.2" x2="785.4" y2="1740.6" stroke="#2a2a2a" stroke-width="1.90" />
<line x1="802.9" y1="1727.2" x2="802.9" y2="1740.6" stroke="#2a2a2a" stroke-width="1.90" />
<text x="813.2" y="1792.0" font-size="26.0" textLength="28.8" lengthAdjust="spacingAndGlyphs" fill="#111" letter-spacing="2.86" >4n</text>
<line x1="804.4" y1="1802.5" x2="818.5" y2="1802.5" stroke="#2a2a2a" stroke-width="1.90" />
<line x1="804.4" y1="1796.3" x2="804.4" y2="1808.7" stroke="#2a2a2a" stroke-width="1.90" />
<line x1="818.5" y1="1796.3" x2="818.5" y2="1808.7" stroke="#2a2a2a" stroke-width="1.90" />
<text x="883.3" y="1848.2" font-size="26.0" textLength="46.4" lengthAdjust="spacingAndGlyphs" fill="#111" letter-spacing="2.86" >&gt; 4n</text>
<line x1="834.4" y1="1856.4" x2="989.7" y2="1856.4" stroke="#2a2a2a" stroke-width="1.90" />
<line x1="834.4" y1="1849.7" x2="834.4" y2="1863.1" stroke="#2a2a2a" stroke-width="1.90" />
<line x1="989.7" y1="1849.7" x2="989.7" y2="1863.1" stroke="#2a2a2a" stroke-width="1.90" />
<rect x="365.7" y="2024.6" width="96.3" height="6.6" fill="#4f9a5b" />
<polygon points="460.3,2015.7 483.7,2027.8 460.3,2039.6" fill="#4f9a5b" />
<text x="492.4" y="2037.2" font-size="34.0" textLength="235.2" lengthAdjust="spacingAndGlyphs" fill="#111" letter-spacing="3.74" >Contenu en ADN</text>
<line x1="1198.9" y1="1655.3" x2="1198.9" y2="1976.6" stroke="#0b0b0b" stroke-width="3.90" />
<line x1="1186.7" y1="1964.7" x2="1829.3" y2="1964.7" stroke="#0b0b0b" stroke-width="3.90" />
<line x1="1186.7" y1="1684.3" x2="1198.9" y2="1684.3" stroke="#0b0b0b" stroke-width="3.90" />
<line x1="1186.7" y1="1824.4" x2="1198.9" y2="1824.4" stroke="#0b0b0b" stroke-width="3.90" />
<line x1="1324.8" y1="1964.7" x2="1324.8" y2="1976.6" stroke="#0b0b0b" stroke-width="3.90" />
<line x1="1450.6" y1="1964.7" x2="1450.6" y2="1976.6" stroke="#0b0b0b" stroke-width="3.90" />
<line x1="1576.5" y1="1964.7" x2="1576.5" y2="1976.6" stroke="#0b0b0b" stroke-width="3.90" />
<line x1="1702.3" y1="1964.7" x2="1702.3" y2="1976.6" stroke="#0b0b0b" stroke-width="3.90" />
<line x1="1828.2" y1="1964.7" x2="1828.2" y2="1976.6" stroke="#0b0b0b" stroke-width="3.90" />
<line x1="1198.9" y1="1684.3" x2="1735.0" y2="1684.3" stroke="#b02a22" stroke-width="3.40" />
<rect x="1731.3" y="1676.7" width="18.4" height="18.4" fill="#b02a22" />
<path d="M1601.5,1686 V1724.3 H1620.3 V1763.6 H1632.9 V1885.1 H1645.3 V1962" fill="none" stroke="#5e5e60" stroke-width="3.60" stroke-linejoin="miter"/>
<polygon points="1592.7,1717.2 1610.3,1717.2 1601.5,1732.7" fill="#5e5e60" />
<polygon points="1612.2,1756.5 1629.8,1756.5 1621.0,1772.0" fill="#5e5e60" />
<polygon points="1624.7,1878.0 1642.3,1878.0 1633.5,1893.5" fill="#5e5e60" />
<polygon points="1637.0,1957.8 1654.6,1957.8 1645.8,1973.3" fill="#5e5e60" />
<text x="1131.4" y="1695.0" font-size="33.5" textLength="50.8" lengthAdjust="spacingAndGlyphs" fill="#111" letter-spacing="3.69" >100</text>
<text x="1147.6" y="1835.8" font-size="33.5" textLength="34.6" lengthAdjust="spacingAndGlyphs" fill="#111" letter-spacing="3.69" >50</text>
<text x="1165.3" y="1976.1" font-size="33.5" textLength="13.6" lengthAdjust="spacingAndGlyphs" fill="#111" >0</text>
<text x="1190.5" y="2013.2" font-size="33.5" textLength="14.0" lengthAdjust="spacingAndGlyphs" fill="#111" >0</text>
<text x="1307.2" y="2013.2" font-size="33.5" textLength="34.0" lengthAdjust="spacingAndGlyphs" fill="#111" letter-spacing="3.69" >20</text>
<text x="1434.4" y="2013.2" font-size="33.5" textLength="35.8" lengthAdjust="spacingAndGlyphs" fill="#111" letter-spacing="3.69" >40</text>
<text x="1560.7" y="2013.2" font-size="33.5" textLength="34.6" lengthAdjust="spacingAndGlyphs" fill="#111" letter-spacing="3.69" >60</text>
<text x="1685.8" y="2013.2" font-size="33.5" textLength="34.6" lengthAdjust="spacingAndGlyphs" fill="#111" letter-spacing="3.69" >80</text>
<text x="1804.9" y="2013.2" font-size="33.5" textLength="50.3" lengthAdjust="spacingAndGlyphs" fill="#111" letter-spacing="3.69" >100</text>
<text x="1428.7" y="1658.8" font-size="33.5" textLength="122.8" lengthAdjust="spacingAndGlyphs" fill="#111" letter-spacing="3.69" >MLN8237</text>
<text x="1319.6" y="1737.9" font-size="33.5" textLength="141.1" lengthAdjust="spacingAndGlyphs" fill="#111" letter-spacing="3.69" >p = 0,0014</text>
<text x="1797.3" y="1831.0" font-size="33.5" textLength="117.2" lengthAdjust="spacingAndGlyphs" fill="#111" letter-spacing="3.69" >Placebo</text>
</svg>
</body></html>
